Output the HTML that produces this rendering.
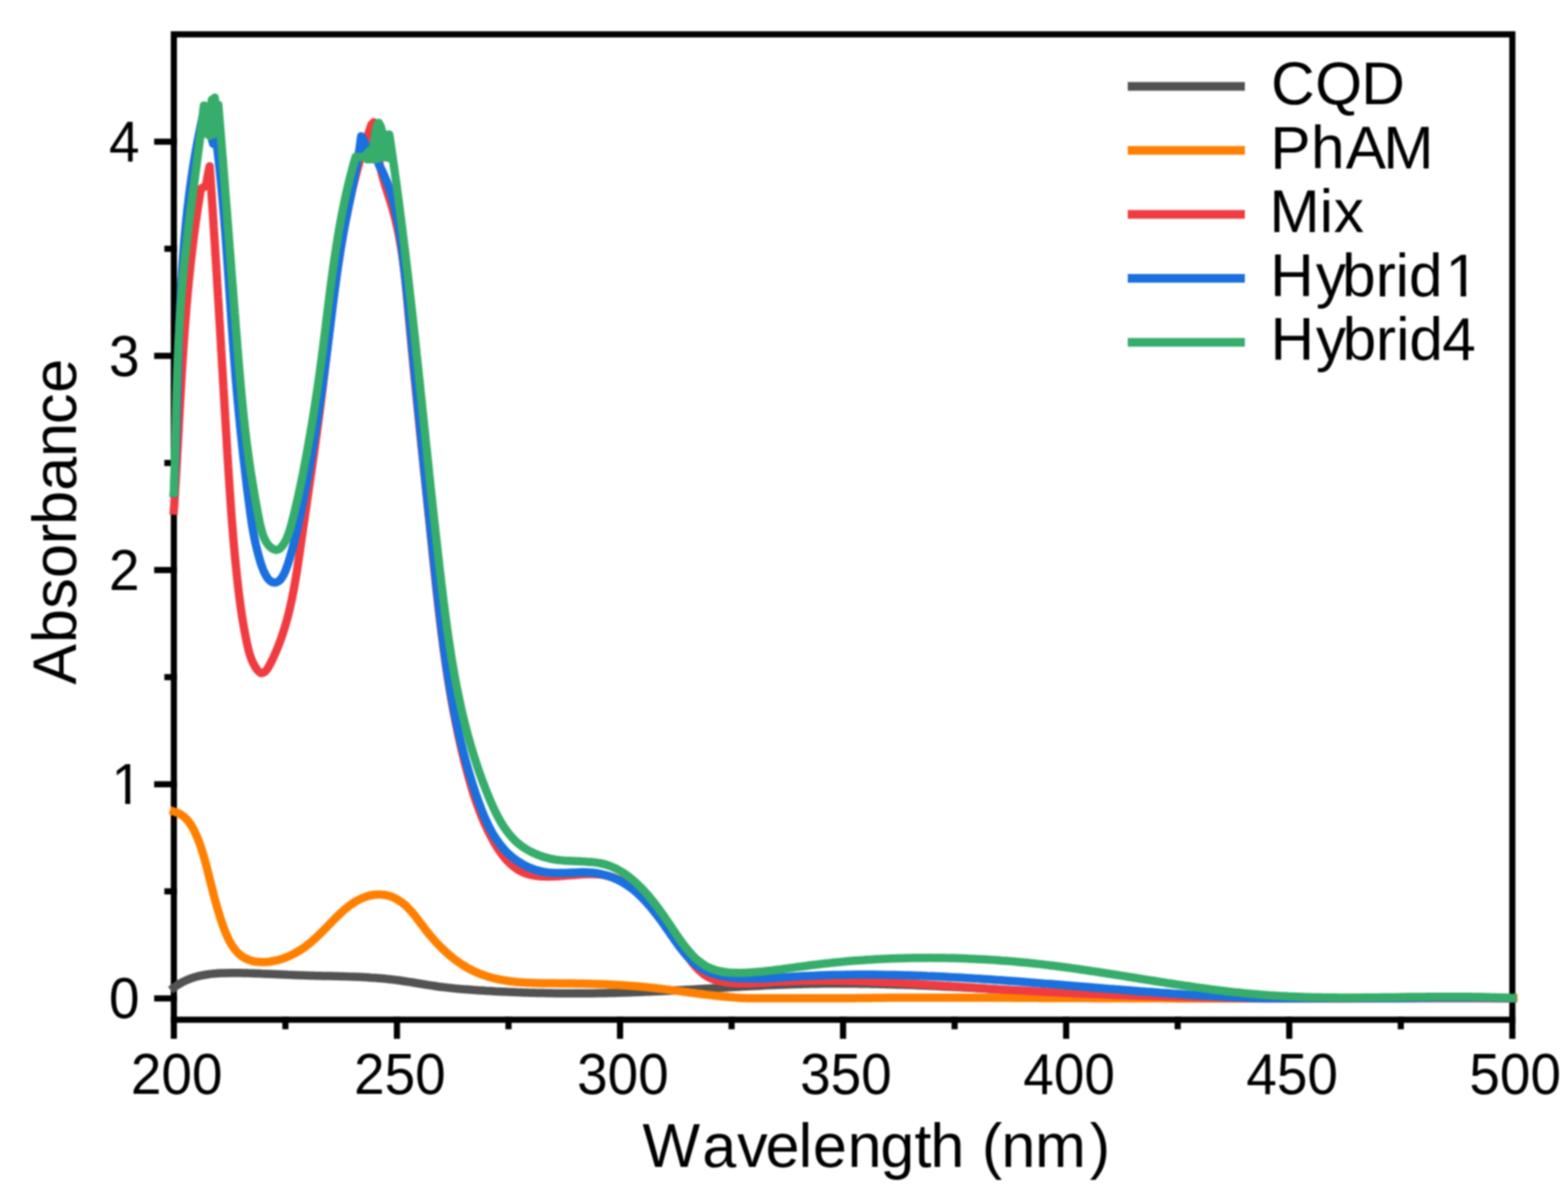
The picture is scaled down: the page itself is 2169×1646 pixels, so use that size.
<!DOCTYPE html>
<html><head><meta charset="utf-8"><title>Absorbance spectra</title><style>
html,body{margin:0;padding:0;background:#fff;overflow:hidden}
svg{display:block;filter:blur(0.80px)}
text{font-family:"Liberation Sans",Arial,Helvetica,sans-serif;fill:#000;font-kerning:none;font-feature-settings:"kern" 0}
.tl{font-size:76.0px}
.leg{font-size:83.5px}
.at{font-size:84.4px}
</style></head><body>
<svg xmlns="http://www.w3.org/2000/svg" width="2169" height="1646" viewBox="0 0 2169 1646">
<rect width="2169" height="1646" fill="#fff"/>
<g stroke="#000" stroke-width="8.5" fill="none" stroke-linecap="square">
<path d="M240.5 47.5 H2092.0 V1410.5 H240.5 Z"/>
<path d="M217.5 1381.0 H240.5"/>
<path d="M217.5 1084.8 H240.5"/>
<path d="M217.5 788.5 H240.5"/>
<path d="M217.5 492.2 H240.5"/>
<path d="M217.5 196.0 H240.5"/>
<path d="M231.6 1232.9 H240.5"/>
<path d="M231.6 936.6 H240.5"/>
<path d="M231.6 640.4 H240.5"/>
<path d="M231.6 344.1 H240.5"/>
<path d="M240.5 1410.5 V1432.6"/>
<path d="M549.1 1410.5 V1432.6"/>
<path d="M857.7 1410.5 V1432.6"/>
<path d="M1166.2 1410.5 V1432.6"/>
<path d="M1474.8 1410.5 V1432.6"/>
<path d="M1783.4 1410.5 V1432.6"/>
<path d="M2092.0 1410.5 V1432.6"/>
<path d="M394.8 1410.5 V1419.4"/>
<path d="M703.4 1410.5 V1419.4"/>
<path d="M1012.0 1410.5 V1419.4"/>
<path d="M1320.5 1410.5 V1419.4"/>
<path d="M1629.1 1410.5 V1419.4"/>
<path d="M1937.7 1410.5 V1419.4"/>
</g>
<path d="M240.5 1366.0C241.3 1365.4 243.8 1363.6 245.5 1362.5C247.2 1361.4 249.0 1360.3 250.7 1359.4C252.5 1358.4 254.2 1357.5 256.0 1356.7C257.8 1355.8 259.6 1355.0 261.4 1354.3C263.2 1353.6 265.1 1353.0 266.9 1352.4C268.8 1351.8 270.6 1351.2 272.5 1350.7C274.4 1350.2 276.3 1349.8 278.2 1349.4C280.1 1349.0 282.0 1348.6 283.9 1348.3C285.9 1347.9 287.8 1347.7 289.7 1347.4C291.7 1347.2 293.7 1347.0 295.6 1346.8C297.6 1346.6 299.6 1346.5 301.5 1346.3C303.5 1346.2 305.5 1346.1 307.5 1346.0C309.5 1346.0 311.5 1345.9 313.5 1345.9C315.5 1345.8 317.5 1345.8 319.5 1345.8C321.5 1345.8 323.6 1345.8 325.6 1345.8C327.6 1345.8 329.6 1345.8 331.6 1345.8C333.6 1345.9 335.6 1345.9 337.7 1345.9C339.7 1346.0 341.7 1346.0 343.7 1346.1C345.7 1346.1 347.7 1346.2 349.8 1346.2C351.8 1346.3 353.8 1346.4 355.8 1346.4C357.8 1346.5 359.9 1346.6 361.9 1346.7C363.9 1346.7 365.9 1346.8 368.0 1346.9C370.0 1347.0 372.0 1347.1 374.0 1347.2C376.0 1347.3 378.1 1347.3 380.1 1347.4C382.1 1347.5 384.1 1347.6 386.1 1347.7C388.2 1347.8 390.2 1347.9 392.2 1348.0C394.2 1348.1 396.2 1348.2 398.3 1348.3C400.3 1348.3 402.3 1348.4 404.3 1348.5C406.3 1348.6 408.4 1348.7 410.4 1348.8C412.4 1348.9 414.4 1348.9 416.4 1349.0C418.4 1349.1 420.4 1349.1 422.4 1349.2C424.5 1349.3 426.5 1349.3 428.5 1349.4C430.5 1349.5 432.5 1349.5 434.5 1349.6C436.5 1349.6 438.5 1349.7 440.5 1349.7C442.5 1349.8 444.5 1349.8 446.5 1349.9C448.5 1349.9 450.5 1349.9 452.5 1350.0C454.5 1350.0 456.5 1350.1 458.5 1350.1C460.5 1350.2 462.5 1350.2 464.5 1350.3C466.5 1350.3 468.5 1350.4 470.5 1350.4C472.5 1350.5 474.5 1350.5 476.5 1350.6C478.5 1350.6 480.5 1350.7 482.4 1350.8C484.4 1350.8 486.4 1350.9 488.4 1351.0C490.4 1351.1 492.4 1351.1 494.4 1351.2C496.4 1351.3 498.3 1351.4 500.3 1351.5C502.3 1351.6 504.3 1351.7 506.3 1351.8C508.3 1351.9 510.2 1352.0 512.2 1352.2C514.2 1352.3 516.2 1352.4 518.2 1352.6C520.1 1352.7 522.1 1352.9 524.1 1353.0C526.1 1353.2 528.1 1353.4 530.0 1353.5C532.0 1353.7 534.0 1353.9 536.0 1354.1C537.9 1354.3 539.9 1354.5 541.9 1354.8C543.9 1355.0 545.8 1355.2 547.8 1355.5C549.8 1355.7 551.8 1356.0 553.7 1356.3C555.7 1356.6 557.7 1356.9 559.6 1357.2C561.6 1357.5 563.6 1357.8 565.6 1358.1C567.5 1358.4 569.5 1358.7 571.5 1359.0C573.4 1359.4 575.4 1359.7 577.4 1360.0C579.4 1360.3 581.3 1360.7 583.3 1361.0C585.3 1361.3 587.2 1361.6 589.2 1362.0C591.2 1362.3 593.2 1362.6 595.1 1362.9C597.1 1363.2 599.1 1363.5 601.1 1363.8C603.1 1364.1 605.0 1364.4 607.0 1364.7C609.0 1364.9 611.0 1365.2 613.0 1365.4C615.0 1365.7 617.0 1365.9 618.9 1366.1C620.9 1366.4 622.9 1366.6 624.9 1366.8C626.9 1367.0 628.9 1367.2 630.9 1367.4C632.9 1367.6 634.9 1367.7 636.9 1367.9C638.9 1368.1 640.9 1368.2 642.9 1368.4C644.9 1368.5 646.9 1368.7 648.9 1368.8C650.9 1369.0 652.9 1369.1 654.9 1369.3C656.9 1369.4 658.8 1369.6 660.8 1369.7C662.8 1369.8 664.8 1370.0 666.8 1370.1C668.8 1370.2 670.8 1370.3 672.8 1370.5C674.8 1370.6 676.8 1370.7 678.8 1370.8C680.8 1370.9 682.8 1371.0 684.8 1371.2C686.8 1371.3 688.8 1371.4 690.8 1371.5C692.8 1371.6 694.9 1371.7 696.9 1371.8C698.9 1371.9 700.9 1372.0 702.9 1372.1C704.9 1372.1 706.9 1372.2 708.9 1372.3C710.9 1372.4 712.9 1372.5 714.9 1372.6C716.9 1372.6 718.9 1372.7 720.9 1372.8C722.9 1372.9 724.9 1372.9 726.9 1373.0C728.9 1373.1 730.9 1373.1 732.9 1373.2C734.9 1373.2 736.9 1373.3 738.9 1373.3C740.9 1373.4 742.9 1373.4 744.9 1373.5C746.9 1373.5 748.9 1373.6 750.9 1373.6C752.9 1373.7 754.9 1373.7 756.9 1373.7C758.9 1373.8 761.0 1373.8 763.0 1373.8C765.0 1373.9 767.0 1373.9 769.0 1373.9C771.0 1373.9 773.0 1374.0 775.0 1374.0C777.0 1374.0 779.0 1374.0 781.0 1374.0C783.0 1374.0 785.0 1374.1 787.0 1374.1C789.0 1374.1 791.0 1374.1 793.0 1374.1C795.0 1374.1 797.0 1374.1 799.1 1374.1C801.1 1374.1 803.1 1374.1 805.1 1374.1C807.1 1374.0 809.1 1374.0 811.1 1374.0C813.1 1374.0 815.1 1374.0 817.1 1374.0C819.1 1373.9 821.1 1373.9 823.1 1373.9C825.1 1373.9 827.1 1373.8 829.1 1373.8C831.1 1373.8 833.2 1373.7 835.2 1373.7C837.2 1373.7 839.2 1373.6 841.2 1373.6C843.2 1373.6 845.2 1373.5 847.2 1373.5C849.2 1373.4 851.2 1373.4 853.2 1373.3C855.2 1373.3 857.2 1373.2 859.2 1373.1C861.2 1373.1 863.2 1373.0 865.2 1373.0C867.3 1372.9 869.3 1372.8 871.3 1372.8C873.3 1372.7 875.3 1372.6 877.3 1372.6C879.3 1372.5 881.3 1372.4 883.3 1372.3C885.3 1372.3 887.3 1372.2 889.3 1372.1C891.3 1372.0 893.3 1371.9 895.3 1371.8C897.3 1371.8 899.3 1371.7 901.4 1371.6C903.4 1371.5 905.4 1371.4 907.4 1371.3C909.4 1371.2 911.4 1371.1 913.4 1371.0C915.4 1370.9 917.4 1370.8 919.4 1370.7C921.4 1370.6 923.4 1370.5 925.4 1370.4C927.4 1370.3 929.4 1370.2 931.4 1370.1C933.4 1370.0 935.4 1369.9 937.5 1369.8C939.5 1369.7 941.5 1369.5 943.5 1369.4C945.5 1369.3 947.5 1369.2 949.5 1369.1C951.5 1369.0 953.5 1368.9 955.5 1368.8C957.5 1368.6 959.5 1368.5 961.5 1368.4C963.5 1368.3 965.5 1368.2 967.5 1368.1C969.5 1368.0 971.5 1367.8 973.5 1367.7C975.5 1367.6 977.6 1367.5 979.6 1367.4C981.6 1367.3 983.6 1367.1 985.6 1367.0C987.6 1366.9 989.6 1366.8 991.6 1366.7C993.6 1366.5 995.6 1366.4 997.6 1366.3C999.6 1366.2 1001.6 1366.1 1003.6 1366.0C1005.6 1365.9 1007.6 1365.7 1009.6 1365.6C1011.6 1365.5 1013.6 1365.4 1015.6 1365.3C1017.6 1365.2 1019.6 1365.1 1021.7 1364.9C1023.7 1364.8 1025.7 1364.7 1027.7 1364.6C1029.7 1364.5 1031.7 1364.4 1033.7 1364.3C1035.7 1364.2 1037.7 1364.1 1039.7 1364.0C1041.7 1363.9 1043.7 1363.8 1045.7 1363.7C1047.7 1363.6 1049.7 1363.5 1051.7 1363.4C1053.7 1363.3 1055.7 1363.2 1057.7 1363.1C1059.7 1363.0 1061.7 1362.9 1063.7 1362.8C1065.7 1362.7 1067.7 1362.6 1069.7 1362.5C1071.8 1362.4 1073.8 1362.4 1075.8 1362.3C1077.8 1362.2 1079.8 1362.1 1081.8 1362.0C1083.8 1362.0 1085.8 1361.9 1087.8 1361.8C1089.8 1361.7 1091.8 1361.7 1093.8 1361.6C1095.8 1361.5 1097.8 1361.5 1099.8 1361.4C1101.8 1361.3 1103.8 1361.3 1105.8 1361.2C1107.8 1361.2 1109.8 1361.1 1111.8 1361.1C1113.8 1361.0 1115.8 1361.0 1117.8 1360.9C1119.8 1360.9 1121.8 1360.8 1123.8 1360.8C1125.8 1360.8 1127.9 1360.7 1129.9 1360.7C1131.9 1360.7 1133.9 1360.6 1135.9 1360.6C1137.9 1360.6 1139.9 1360.6 1141.9 1360.6C1143.9 1360.5 1145.9 1360.5 1147.9 1360.5C1149.9 1360.5 1151.9 1360.5 1153.9 1360.5C1155.9 1360.5 1157.9 1360.5 1159.9 1360.5C1161.9 1360.5 1163.9 1360.5 1165.9 1360.5C1167.9 1360.5 1169.9 1360.5 1171.9 1360.5C1173.9 1360.5 1175.9 1360.5 1177.9 1360.5C1179.9 1360.6 1181.9 1360.6 1183.9 1360.6C1185.9 1360.6 1187.9 1360.6 1189.9 1360.7C1192.0 1360.7 1194.0 1360.7 1196.0 1360.7C1198.0 1360.8 1200.0 1360.8 1202.0 1360.8C1204.0 1360.9 1206.0 1360.9 1208.0 1361.0C1210.0 1361.0 1212.0 1361.0 1214.0 1361.1C1216.0 1361.1 1218.0 1361.2 1220.0 1361.2C1222.0 1361.3 1224.0 1361.3 1226.0 1361.4C1228.0 1361.4 1230.0 1361.5 1232.0 1361.6C1234.0 1361.6 1236.0 1361.7 1238.0 1361.7C1240.0 1361.8 1242.0 1361.9 1244.0 1361.9C1246.0 1362.0 1248.0 1362.1 1250.0 1362.1C1252.0 1362.2 1254.0 1362.3 1256.0 1362.3C1258.0 1362.4 1260.0 1362.5 1262.1 1362.6C1264.1 1362.6 1266.1 1362.7 1268.1 1362.8C1270.1 1362.9 1272.1 1363.0 1274.1 1363.0C1276.1 1363.1 1278.1 1363.2 1280.1 1363.3C1282.1 1363.4 1284.1 1363.5 1286.1 1363.6C1288.1 1363.6 1290.1 1363.7 1292.1 1363.8C1294.1 1363.9 1296.1 1364.0 1298.1 1364.1C1300.1 1364.2 1302.1 1364.3 1304.1 1364.4C1306.1 1364.5 1308.1 1364.6 1310.1 1364.7C1312.1 1364.8 1314.1 1364.9 1316.1 1365.0C1318.1 1365.1 1320.1 1365.2 1322.1 1365.3C1324.1 1365.4 1326.1 1365.5 1328.1 1365.6C1330.1 1365.7 1332.1 1365.8 1334.1 1365.9C1336.2 1366.1 1338.2 1366.2 1340.2 1366.3C1342.2 1366.4 1344.2 1366.5 1346.2 1366.6C1348.2 1366.7 1350.2 1366.8 1352.2 1366.9C1354.2 1367.1 1356.2 1367.2 1358.2 1367.3C1360.2 1367.4 1362.2 1367.5 1364.2 1367.6C1366.2 1367.7 1368.2 1367.9 1370.2 1368.0C1372.2 1368.1 1374.2 1368.2 1376.2 1368.3C1378.2 1368.5 1380.2 1368.6 1382.2 1368.7C1384.2 1368.8 1386.2 1368.9 1388.2 1369.0C1390.2 1369.2 1392.2 1369.3 1394.2 1369.4C1396.2 1369.5 1398.2 1369.6 1400.2 1369.8C1402.2 1369.9 1404.2 1370.0 1406.2 1370.1C1408.3 1370.2 1410.3 1370.4 1412.3 1370.5C1414.3 1370.6 1416.3 1370.7 1418.3 1370.9C1420.3 1371.0 1422.3 1371.1 1424.3 1371.2C1426.3 1371.3 1428.3 1371.5 1430.3 1371.6C1432.3 1371.7 1434.3 1371.8 1436.3 1371.9C1438.3 1372.1 1440.3 1372.2 1442.3 1372.3C1444.3 1372.4 1446.3 1372.5 1448.3 1372.7C1450.3 1372.8 1452.3 1372.9 1454.3 1373.0C1456.3 1373.1 1458.3 1373.3 1460.3 1373.4C1462.3 1373.5 1464.3 1373.6 1466.3 1373.7C1468.3 1373.8 1470.3 1374.0 1472.3 1374.1C1474.4 1374.2 1476.4 1374.3 1478.4 1374.4C1480.4 1374.5 1482.4 1374.7 1484.4 1374.8C1486.4 1374.9 1488.4 1375.0 1490.4 1375.1C1492.4 1375.2 1494.4 1375.3 1496.4 1375.4C1498.4 1375.5 1500.4 1375.7 1502.4 1375.8C1504.4 1375.9 1506.4 1376.0 1508.4 1376.1C1510.4 1376.2 1512.4 1376.3 1514.4 1376.4C1516.4 1376.5 1518.4 1376.6 1520.4 1376.7C1522.4 1376.8 1524.4 1376.9 1526.4 1377.0C1528.4 1377.1 1530.4 1377.2 1532.5 1377.3C1534.5 1377.4 1536.5 1377.5 1538.5 1377.6C1540.5 1377.7 1542.5 1377.8 1544.5 1377.9C1546.5 1378.0 1548.5 1378.1 1550.5 1378.1C1552.5 1378.2 1554.5 1378.3 1556.5 1378.4C1558.5 1378.5 1560.5 1378.6 1562.5 1378.7C1564.5 1378.7 1566.5 1378.8 1568.5 1378.9C1570.5 1379.0 1572.5 1379.1 1574.5 1379.1C1576.5 1379.2 1578.5 1379.3 1580.5 1379.4C1582.6 1379.4 1584.6 1379.5 1586.6 1379.6C1588.6 1379.7 1590.6 1379.7 1592.6 1379.8C1594.6 1379.8 1596.6 1379.9 1598.6 1380.0C1600.6 1380.0 1602.6 1380.1 1604.6 1380.2C1606.6 1380.2 1608.6 1380.3 1610.6 1380.3C1612.6 1380.4 1614.6 1380.4 1616.6 1380.5C1618.6 1380.5 1620.6 1380.6 1622.6 1380.6C1624.6 1380.7 1626.7 1380.7 1628.7 1380.8C1630.7 1380.8 1632.7 1380.8 1634.7 1380.8C1636.7 1380.8 1638.7 1380.8 1640.7 1380.8C1642.7 1380.8 1644.7 1380.8 1646.7 1380.8C1648.7 1380.8 1650.7 1380.8 1652.7 1380.8C1654.7 1380.8 1656.7 1380.8 1658.7 1380.8C1660.7 1380.8 1662.7 1380.8 1664.7 1380.8C1666.7 1380.8 1668.8 1380.8 1670.8 1380.8C1672.8 1380.8 1674.8 1380.8 1676.8 1380.8C1678.8 1380.8 1680.8 1380.8 1682.8 1380.8C1684.8 1380.8 1686.8 1380.8 1688.8 1380.8C1690.8 1380.8 1692.8 1380.8 1694.8 1380.8C1696.8 1380.8 1698.8 1380.8 1700.8 1380.8C1702.8 1380.8 1704.8 1380.8 1706.9 1380.8C1708.9 1380.8 1710.9 1380.8 1712.9 1380.8C1714.9 1380.8 1716.9 1380.8 1718.9 1380.8C1720.9 1380.8 1722.9 1380.8 1724.9 1380.8C1726.9 1380.8 1728.9 1380.8 1730.9 1380.8C1732.9 1380.8 1734.9 1380.8 1736.9 1380.8C1738.9 1380.8 1741.0 1380.8 1743.0 1380.8C1745.0 1380.8 1747.0 1380.8 1749.0 1380.8C1751.0 1380.8 1753.0 1380.8 1755.0 1380.8C1757.0 1380.8 1759.0 1380.8 1761.0 1380.8C1763.0 1380.8 1765.0 1380.8 1767.0 1380.8C1769.0 1380.8 1771.0 1380.8 1773.0 1380.8C1775.0 1380.8 1777.1 1380.8 1779.1 1380.8C1781.1 1380.8 1783.1 1380.8 1785.1 1380.8C1787.1 1380.8 1789.1 1380.8 1791.1 1380.8C1793.1 1380.8 1795.1 1380.8 1797.1 1380.8C1799.1 1380.8 1801.1 1380.8 1803.1 1380.8C1805.1 1380.8 1807.1 1380.8 1809.2 1380.8C1811.2 1380.8 1813.2 1380.8 1815.2 1380.8C1817.2 1380.8 1819.2 1380.8 1821.2 1380.8C1823.2 1380.8 1825.2 1380.8 1827.2 1380.8C1829.2 1380.8 1831.2 1380.8 1833.2 1380.8C1835.2 1380.8 1837.2 1380.8 1839.2 1380.8C1841.2 1380.8 1843.3 1380.8 1845.3 1380.8C1847.3 1380.8 1849.3 1380.8 1851.3 1380.8C1853.3 1380.8 1855.3 1380.8 1857.3 1380.8C1859.3 1380.8 1861.3 1380.8 1863.3 1380.7C1865.3 1380.7 1867.3 1380.7 1869.3 1380.7C1871.3 1380.7 1873.3 1380.6 1875.4 1380.6C1877.4 1380.6 1879.4 1380.6 1881.4 1380.6C1883.4 1380.5 1885.4 1380.5 1887.4 1380.5C1889.4 1380.5 1891.4 1380.4 1893.4 1380.4C1895.4 1380.4 1897.4 1380.4 1899.4 1380.4C1901.4 1380.3 1903.4 1380.3 1905.4 1380.3C1907.5 1380.3 1909.5 1380.3 1911.5 1380.3C1913.5 1380.2 1915.5 1380.2 1917.5 1380.2C1919.5 1380.2 1921.5 1380.2 1923.5 1380.1C1925.5 1380.1 1927.5 1380.1 1929.5 1380.1C1931.5 1380.1 1933.5 1380.1 1935.5 1380.1C1937.5 1380.0 1939.6 1380.0 1941.6 1380.0C1943.6 1380.0 1945.6 1380.0 1947.6 1380.0C1949.6 1380.0 1951.6 1379.9 1953.6 1379.9C1955.6 1379.9 1957.6 1379.9 1959.6 1379.9C1961.6 1379.9 1963.6 1379.9 1965.6 1379.9C1967.6 1379.9 1969.6 1379.9 1971.6 1379.9C1973.7 1379.9 1975.7 1379.8 1977.7 1379.8C1979.7 1379.8 1981.7 1379.8 1983.7 1379.8C1985.7 1379.8 1987.7 1379.8 1989.7 1379.8C1991.7 1379.8 1993.7 1379.8 1995.7 1379.8C1997.7 1379.8 1999.7 1379.8 2001.7 1379.8C2003.7 1379.8 2005.8 1379.8 2007.8 1379.8C2009.8 1379.8 2011.8 1379.8 2013.8 1379.9C2015.8 1379.9 2017.8 1379.9 2019.8 1379.9C2021.8 1379.9 2023.8 1379.9 2025.8 1379.9C2027.8 1379.9 2029.8 1379.9 2031.8 1380.0C2033.8 1380.0 2035.8 1380.0 2037.8 1380.0C2039.9 1380.0 2041.9 1380.0 2043.9 1380.1C2045.9 1380.1 2047.9 1380.1 2049.9 1380.1C2051.9 1380.1 2053.9 1380.2 2055.9 1380.2C2057.9 1380.2 2059.9 1380.2 2061.9 1380.3C2063.9 1380.3 2065.9 1380.3 2067.9 1380.4C2069.9 1380.4 2071.9 1380.4 2073.9 1380.5C2076.0 1380.5 2078.0 1380.5 2080.0 1380.6C2082.0 1380.6 2084.0 1380.6 2086.0 1380.7C2088.0 1380.7 2091.0 1380.8 2092.0 1380.8" fill="none" stroke="#525252" stroke-width="11.5" stroke-linejoin="round" stroke-linecap="square"/>
<path d="M240.5 1122.5C241.5 1122.8 244.4 1123.7 246.2 1124.6C248.0 1125.4 249.7 1126.3 251.2 1127.4C252.8 1128.4 254.3 1129.6 255.7 1130.8C257.1 1132.1 258.4 1133.4 259.6 1134.9C260.8 1136.3 262.0 1137.8 263.1 1139.4C264.1 1141.0 265.2 1142.6 266.1 1144.3C267.1 1146.0 268.0 1147.7 268.9 1149.5C269.8 1151.3 270.6 1153.1 271.4 1154.9C272.2 1156.7 273.0 1158.6 273.7 1160.4C274.5 1162.3 275.2 1164.2 275.9 1166.1C276.6 1168.0 277.3 1169.9 277.9 1171.8C278.6 1173.8 279.2 1175.7 279.8 1177.6C280.4 1179.6 281.0 1181.6 281.6 1183.5C282.2 1185.5 282.7 1187.4 283.3 1189.4C283.8 1191.4 284.4 1193.4 284.9 1195.3C285.4 1197.3 285.9 1199.3 286.4 1201.2C286.9 1203.2 287.4 1205.2 287.9 1207.1C288.4 1209.1 288.9 1211.1 289.3 1213.0C289.8 1214.9 290.3 1216.9 290.8 1218.8C291.3 1220.7 291.7 1222.6 292.2 1224.5C292.7 1226.5 293.2 1228.4 293.7 1230.3C294.2 1232.2 294.7 1234.1 295.2 1236.0C295.7 1237.9 296.2 1239.7 296.7 1241.7C297.2 1243.6 297.7 1245.5 298.2 1247.4C298.7 1249.3 299.3 1251.2 299.8 1253.1C300.4 1255.0 300.9 1257.0 301.5 1258.9C302.1 1260.8 302.7 1262.8 303.3 1264.7C303.9 1266.7 304.5 1268.7 305.1 1270.7C305.8 1272.7 306.4 1274.7 307.1 1276.7C307.8 1278.7 308.5 1280.7 309.2 1282.7C310.0 1284.7 310.7 1286.7 311.5 1288.7C312.3 1290.7 313.1 1292.6 314.0 1294.5C314.8 1296.4 315.7 1298.3 316.7 1300.1C317.6 1302.0 318.6 1303.8 319.6 1305.5C320.7 1307.2 321.7 1308.9 322.9 1310.5C324.0 1312.1 325.2 1313.6 326.4 1315.0C327.6 1316.5 328.9 1317.8 330.3 1319.1C331.6 1320.4 333.1 1321.5 334.5 1322.6C336.0 1323.7 337.6 1324.6 339.2 1325.5C340.8 1326.3 342.5 1327.0 344.2 1327.7C345.9 1328.3 347.7 1328.8 349.5 1329.3C351.4 1329.7 353.2 1330.0 355.1 1330.3C357.0 1330.5 359.0 1330.7 360.9 1330.7C362.8 1330.8 364.8 1330.8 366.8 1330.7C368.8 1330.6 370.8 1330.4 372.8 1330.2C374.7 1329.9 376.7 1329.6 378.7 1329.2C380.7 1328.8 382.7 1328.4 384.6 1327.9C386.6 1327.3 388.5 1326.8 390.4 1326.1C392.3 1325.5 394.2 1324.8 396.1 1324.1C397.9 1323.3 399.8 1322.5 401.6 1321.7C403.4 1320.9 405.2 1320.0 407.0 1319.0C408.8 1318.1 410.5 1317.1 412.3 1316.0C414.0 1315.0 415.7 1313.9 417.4 1312.8C419.1 1311.7 420.8 1310.5 422.4 1309.3C424.0 1308.1 425.7 1306.8 427.3 1305.6C428.9 1304.3 430.4 1303.0 432.0 1301.6C433.6 1300.3 435.1 1298.9 436.6 1297.5C438.2 1296.1 439.7 1294.6 441.2 1293.2C442.6 1291.7 444.1 1290.3 445.6 1288.8C447.1 1287.3 448.5 1285.8 450.0 1284.4C451.4 1282.9 452.9 1281.4 454.3 1279.9C455.8 1278.4 457.2 1276.9 458.7 1275.4C460.1 1273.9 461.6 1272.5 463.0 1271.0C464.5 1269.6 465.9 1268.1 467.4 1266.7C468.8 1265.3 470.3 1263.9 471.8 1262.5C473.2 1261.2 474.7 1259.8 476.2 1258.5C477.7 1257.3 479.3 1256.0 480.8 1254.8C482.3 1253.6 483.9 1252.4 485.5 1251.3C487.0 1250.1 488.6 1249.1 490.2 1248.0C491.9 1247.0 493.5 1246.0 495.2 1245.2C496.9 1244.3 498.6 1243.4 500.3 1242.6C502.0 1241.9 503.8 1241.2 505.6 1240.6C507.4 1239.9 509.2 1239.4 511.1 1238.9C512.9 1238.5 514.8 1238.1 516.7 1237.8C518.6 1237.6 520.5 1237.4 522.4 1237.3C524.3 1237.2 526.2 1237.2 528.1 1237.4C529.9 1237.5 531.8 1237.7 533.7 1238.1C535.6 1238.5 537.4 1239.0 539.2 1239.5C541.1 1240.1 542.9 1240.8 544.6 1241.6C546.4 1242.4 548.1 1243.3 549.8 1244.3C551.5 1245.2 553.1 1246.3 554.7 1247.4C556.3 1248.6 557.8 1249.8 559.3 1251.1C560.8 1252.3 562.3 1253.7 563.7 1255.1C565.1 1256.4 566.5 1257.9 567.8 1259.4C569.2 1260.9 570.5 1262.4 571.8 1264.0C573.1 1265.5 574.4 1267.1 575.6 1268.8C576.9 1270.4 578.1 1272.0 579.4 1273.7C580.6 1275.3 581.9 1277.0 583.1 1278.7C584.4 1280.3 585.6 1282.0 586.9 1283.6C588.1 1285.3 589.4 1287.0 590.7 1288.6C592.0 1290.2 593.3 1291.8 594.6 1293.4C595.9 1295.0 597.3 1296.6 598.6 1298.1C600.0 1299.7 601.4 1301.2 602.7 1302.7C604.1 1304.3 605.5 1305.7 607.0 1307.2C608.4 1308.7 609.8 1310.1 611.3 1311.5C612.7 1313.0 614.2 1314.4 615.7 1315.7C617.2 1317.1 618.7 1318.4 620.2 1319.7C621.7 1321.1 623.2 1322.3 624.8 1323.6C626.4 1324.9 627.9 1326.1 629.5 1327.3C631.1 1328.5 632.7 1329.7 634.3 1330.8C635.9 1331.9 637.6 1333.0 639.2 1334.1C640.9 1335.2 642.5 1336.2 644.2 1337.2C645.9 1338.2 647.6 1339.2 649.3 1340.1C651.0 1341.0 652.8 1341.9 654.5 1342.8C656.3 1343.6 658.0 1344.4 659.8 1345.2C661.6 1346.0 663.4 1346.7 665.2 1347.4C667.0 1348.1 668.9 1348.8 670.7 1349.4C672.5 1350.0 674.4 1350.6 676.3 1351.2C678.1 1351.7 680.0 1352.2 681.9 1352.7C683.8 1353.2 685.7 1353.7 687.7 1354.1C689.6 1354.5 691.5 1354.9 693.5 1355.3C695.4 1355.6 697.4 1356.0 699.3 1356.3C701.3 1356.6 703.3 1356.9 705.3 1357.2C707.3 1357.4 709.2 1357.7 711.2 1357.9C713.2 1358.1 715.3 1358.3 717.3 1358.5C719.3 1358.6 721.3 1358.8 723.3 1358.9C725.4 1359.1 727.4 1359.2 729.4 1359.3C731.5 1359.4 733.5 1359.5 735.5 1359.6C737.6 1359.7 739.6 1359.7 741.7 1359.8C743.7 1359.9 745.8 1359.9 747.8 1359.9C749.9 1360.0 751.9 1360.0 754.0 1360.0C756.1 1360.1 758.1 1360.1 760.2 1360.1C762.2 1360.1 764.3 1360.1 766.3 1360.1C768.4 1360.1 770.4 1360.1 772.5 1360.2C774.5 1360.2 776.6 1360.2 778.6 1360.2C780.7 1360.2 782.7 1360.2 784.7 1360.2C786.8 1360.2 788.8 1360.3 790.8 1360.3C792.8 1360.3 794.9 1360.3 796.9 1360.4C798.9 1360.4 800.9 1360.4 802.9 1360.5C804.9 1360.5 806.9 1360.5 808.9 1360.6C810.9 1360.6 812.9 1360.7 814.9 1360.7C816.9 1360.8 818.9 1360.8 820.9 1360.9C822.9 1361.0 824.9 1361.0 826.9 1361.1C828.9 1361.2 830.9 1361.2 832.9 1361.3C834.9 1361.4 836.9 1361.5 838.8 1361.6C840.8 1361.7 842.8 1361.8 844.8 1361.9C846.8 1361.9 848.7 1362.1 850.7 1362.2C852.7 1362.3 854.7 1362.4 856.6 1362.5C858.6 1362.6 860.6 1362.8 862.6 1362.9C864.5 1363.0 866.5 1363.2 868.5 1363.3C870.4 1363.4 872.4 1363.6 874.4 1363.7C876.4 1363.9 878.3 1364.1 880.3 1364.2C882.3 1364.4 884.2 1364.6 886.2 1364.7C888.2 1364.9 890.2 1365.1 892.1 1365.3C894.1 1365.5 896.1 1365.7 898.0 1365.9C900.0 1366.1 902.0 1366.3 904.0 1366.5C905.9 1366.7 907.9 1367.0 909.9 1367.2C911.9 1367.4 913.9 1367.7 915.8 1367.9C917.8 1368.1 919.8 1368.4 921.8 1368.6C923.8 1368.9 925.7 1369.1 927.7 1369.4C929.7 1369.6 931.7 1369.9 933.7 1370.1C935.6 1370.4 937.6 1370.7 939.6 1370.9C941.6 1371.2 943.6 1371.5 945.6 1371.7C947.6 1372.0 949.5 1372.2 951.5 1372.5C953.5 1372.8 955.5 1373.0 957.5 1373.3C959.5 1373.5 961.5 1373.8 963.5 1374.1C965.4 1374.3 967.4 1374.6 969.4 1374.8C971.4 1375.1 973.4 1375.3 975.4 1375.6C977.4 1375.8 979.4 1376.0 981.4 1376.3C983.4 1376.5 985.4 1376.7 987.4 1377.0C989.4 1377.2 991.3 1377.4 993.3 1377.6C995.3 1377.8 997.3 1378.0 999.3 1378.2C1001.3 1378.4 1003.3 1378.6 1005.3 1378.8C1007.3 1379.0 1009.3 1379.1 1011.3 1379.3C1013.3 1379.5 1015.3 1379.6 1017.3 1379.8C1019.3 1379.9 1021.3 1380.1 1023.3 1380.2C1025.3 1380.3 1027.3 1380.5 1029.3 1380.6C1031.3 1380.7 1033.3 1380.8 1035.3 1380.8C1037.3 1380.8 1039.3 1380.8 1041.3 1380.8C1043.3 1380.8 1045.3 1380.8 1047.3 1380.8C1049.3 1380.8 1051.3 1380.8 1053.3 1380.8C1055.3 1380.8 1057.3 1380.8 1059.3 1380.8C1061.3 1380.8 1063.3 1380.8 1065.3 1380.8C1067.3 1380.8 1069.3 1380.8 1071.3 1380.8C1073.3 1380.8 1075.3 1380.8 1077.3 1380.8C1079.3 1380.8 1081.3 1380.8 1083.3 1380.8C1085.3 1380.8 1087.3 1380.8 1089.3 1380.8C1091.3 1380.8 1093.3 1380.8 1095.3 1380.8C1097.3 1380.8 1099.3 1380.8 1101.4 1380.8C1103.4 1380.8 1105.4 1380.8 1107.4 1380.8C1109.4 1380.8 1111.4 1380.8 1113.4 1380.8C1115.4 1380.8 1117.4 1380.8 1119.4 1380.8C1121.4 1380.8 1123.4 1380.8 1125.4 1380.8C1127.4 1380.8 1129.4 1380.8 1131.4 1380.8C1133.4 1380.8 1135.4 1380.8 1137.4 1380.8C1139.4 1380.8 1141.4 1380.8 1143.5 1380.8C1145.5 1380.8 1147.5 1380.8 1149.5 1380.8C1151.5 1380.8 1153.5 1380.8 1155.5 1380.8C1157.5 1380.8 1159.5 1380.8 1161.5 1380.8C1163.5 1380.8 1165.5 1380.8 1167.5 1380.8C1169.5 1380.8 1171.5 1380.8 1173.5 1380.8C1175.5 1380.8 1177.5 1380.7 1179.5 1380.7C1181.6 1380.7 1183.6 1380.6 1185.6 1380.6C1187.6 1380.6 1189.6 1380.5 1191.6 1380.5C1193.6 1380.5 1195.6 1380.5 1197.6 1380.4C1199.6 1380.4 1201.6 1380.4 1203.6 1380.4C1205.6 1380.3 1207.6 1380.3 1209.6 1380.3C1211.6 1380.3 1213.6 1380.3 1215.6 1380.2C1217.6 1380.2 1219.6 1380.2 1221.6 1380.2C1223.7 1380.2 1225.7 1380.2 1227.7 1380.1C1229.7 1380.1 1231.7 1380.1 1233.7 1380.1C1235.7 1380.1 1237.7 1380.1 1239.7 1380.0C1241.7 1380.0 1243.7 1380.0 1245.7 1380.0C1247.7 1380.0 1249.7 1380.0 1251.7 1380.0C1253.7 1380.0 1255.7 1380.0 1257.7 1380.0C1259.7 1379.9 1261.7 1379.9 1263.7 1379.9C1265.7 1379.9 1267.8 1379.9 1269.8 1379.9C1271.8 1379.9 1273.8 1379.9 1275.8 1379.9C1277.8 1379.9 1279.8 1379.9 1281.8 1379.9C1283.8 1379.9 1285.8 1379.9 1287.8 1379.9C1289.8 1379.9 1291.8 1379.9 1293.8 1379.9C1295.8 1379.9 1297.8 1379.9 1299.8 1379.9C1301.8 1379.9 1303.8 1379.9 1305.8 1379.9C1307.8 1379.9 1309.8 1379.9 1311.9 1379.9C1313.9 1379.9 1315.9 1379.9 1317.9 1379.9C1319.9 1379.9 1321.9 1379.9 1323.9 1379.9C1325.9 1379.9 1327.9 1379.9 1329.9 1379.9C1331.9 1379.9 1333.9 1379.9 1335.9 1379.9C1337.9 1379.9 1339.9 1379.9 1341.9 1379.9C1343.9 1379.9 1345.9 1379.9 1347.9 1379.9C1349.9 1380.0 1351.9 1380.0 1353.9 1380.0C1355.9 1380.0 1357.9 1380.0 1360.0 1380.0C1362.0 1380.0 1364.0 1380.0 1366.0 1380.0C1368.0 1380.0 1370.0 1380.0 1372.0 1380.0C1374.0 1380.0 1376.0 1380.1 1378.0 1380.1C1380.0 1380.1 1382.0 1380.1 1384.0 1380.1C1386.0 1380.1 1388.0 1380.1 1390.0 1380.1C1392.0 1380.1 1394.0 1380.1 1396.0 1380.1C1398.0 1380.2 1400.0 1380.2 1402.0 1380.2C1404.0 1380.2 1406.0 1380.2 1408.0 1380.2C1410.1 1380.2 1412.1 1380.2 1414.1 1380.2C1416.1 1380.3 1418.1 1380.3 1420.1 1380.3C1422.1 1380.3 1424.1 1380.3 1426.1 1380.3C1428.1 1380.3 1430.1 1380.3 1432.1 1380.3C1434.1 1380.3 1436.1 1380.4 1438.1 1380.4C1440.1 1380.4 1442.1 1380.4 1444.1 1380.4C1446.1 1380.4 1448.1 1380.4 1450.1 1380.4C1452.1 1380.4 1454.1 1380.4 1456.1 1380.5C1458.2 1380.5 1460.2 1380.5 1462.2 1380.5C1464.2 1380.5 1466.2 1380.5 1468.2 1380.5C1470.2 1380.5 1472.2 1380.5 1474.2 1380.5C1476.2 1380.5 1478.2 1380.6 1480.2 1380.6C1482.2 1380.6 1484.2 1380.6 1486.2 1380.6C1488.2 1380.6 1490.2 1380.6 1492.2 1380.6C1494.2 1380.6 1496.2 1380.6 1498.2 1380.6C1500.2 1380.6 1502.2 1380.6 1504.2 1380.6C1506.2 1380.7 1508.3 1380.7 1510.3 1380.7C1512.3 1380.7 1514.3 1380.7 1516.3 1380.7C1518.3 1380.7 1520.3 1380.7 1522.3 1380.7C1524.3 1380.7 1526.3 1380.7 1528.3 1380.7C1530.3 1380.7 1532.3 1380.7 1534.3 1380.7C1536.3 1380.7 1538.3 1380.7 1540.3 1380.7C1542.3 1380.7 1544.3 1380.7 1546.3 1380.7C1548.3 1380.7 1550.3 1380.8 1552.3 1380.8C1554.3 1380.8 1556.4 1380.8 1558.4 1380.8C1560.4 1380.8 1562.4 1380.8 1564.4 1380.8C1566.4 1380.8 1568.4 1380.8 1570.4 1380.8C1572.4 1380.8 1574.4 1380.8 1576.4 1380.8C1578.4 1380.8 1580.4 1380.8 1582.4 1380.8C1584.4 1380.8 1586.4 1380.8 1588.4 1380.8C1590.4 1380.8 1592.4 1380.8 1594.4 1380.8C1596.4 1380.8 1598.4 1380.8 1600.4 1380.8C1602.5 1380.8 1604.5 1380.8 1606.5 1380.8C1608.5 1380.8 1610.5 1380.8 1612.5 1380.8C1614.5 1380.8 1616.5 1380.8 1618.5 1380.8C1620.5 1380.8 1622.5 1380.8 1624.5 1380.8C1626.5 1380.8 1628.5 1380.8 1630.5 1380.8C1632.5 1380.8 1634.5 1380.8 1636.5 1380.8C1638.5 1380.8 1640.5 1380.8 1642.5 1380.8C1644.5 1380.8 1646.5 1380.8 1648.5 1380.8C1650.6 1380.8 1652.6 1380.8 1654.6 1380.8C1656.6 1380.8 1658.6 1380.8 1660.6 1380.8C1662.6 1380.8 1664.6 1380.8 1666.6 1380.7C1668.6 1380.7 1670.6 1380.7 1672.6 1380.7C1674.6 1380.7 1676.6 1380.7 1678.6 1380.7C1680.6 1380.7 1682.6 1380.7 1684.6 1380.7C1686.6 1380.7 1688.6 1380.7 1690.6 1380.7C1692.6 1380.7 1694.6 1380.7 1696.7 1380.7C1698.7 1380.7 1700.7 1380.7 1702.7 1380.7C1704.7 1380.7 1706.7 1380.7 1708.7 1380.7C1710.7 1380.7 1712.7 1380.7 1714.7 1380.7C1716.7 1380.7 1718.7 1380.7 1720.7 1380.7C1722.7 1380.7 1724.7 1380.7 1726.7 1380.7C1728.7 1380.6 1730.7 1380.6 1732.7 1380.6C1734.7 1380.6 1736.7 1380.6 1738.7 1380.6C1740.7 1380.6 1742.8 1380.6 1744.8 1380.6C1746.8 1380.6 1748.8 1380.6 1750.8 1380.6C1752.8 1380.6 1754.8 1380.6 1756.8 1380.6C1758.8 1380.6 1760.8 1380.6 1762.8 1380.6C1764.8 1380.6 1766.8 1380.6 1768.8 1380.6C1770.8 1380.6 1772.8 1380.6 1774.8 1380.6C1776.8 1380.5 1778.8 1380.5 1780.8 1380.5C1782.8 1380.5 1784.8 1380.5 1786.8 1380.5C1788.9 1380.5 1790.9 1380.5 1792.9 1380.5C1794.9 1380.5 1796.9 1380.5 1798.9 1380.5C1800.9 1380.5 1802.9 1380.5 1804.9 1380.5C1806.9 1380.5 1808.9 1380.5 1810.9 1380.5C1812.9 1380.5 1814.9 1380.5 1816.9 1380.5C1818.9 1380.5 1820.9 1380.5 1822.9 1380.4C1824.9 1380.4 1826.9 1380.4 1828.9 1380.4C1830.9 1380.4 1832.9 1380.4 1835.0 1380.4C1837.0 1380.4 1839.0 1380.4 1841.0 1380.4C1843.0 1380.4 1845.0 1380.4 1847.0 1380.4C1849.0 1380.4 1851.0 1380.4 1853.0 1380.4C1855.0 1380.4 1857.0 1380.4 1859.0 1380.4C1861.0 1380.4 1863.0 1380.4 1865.0 1380.4C1867.0 1380.4 1869.0 1380.4 1871.0 1380.4C1873.0 1380.4 1875.0 1380.3 1877.0 1380.3C1879.0 1380.3 1881.1 1380.3 1883.1 1380.3C1885.1 1380.3 1887.1 1380.3 1889.1 1380.3C1891.1 1380.3 1893.1 1380.3 1895.1 1380.3C1897.1 1380.3 1899.1 1380.3 1901.1 1380.3C1903.1 1380.3 1905.1 1380.3 1907.1 1380.3C1909.1 1380.3 1911.1 1380.3 1913.1 1380.3C1915.1 1380.3 1917.1 1380.3 1919.1 1380.3C1921.1 1380.3 1923.1 1380.3 1925.1 1380.3C1927.2 1380.3 1929.2 1380.3 1931.2 1380.3C1933.2 1380.3 1935.2 1380.3 1937.2 1380.3C1939.2 1380.3 1941.2 1380.3 1943.2 1380.3C1945.2 1380.3 1947.2 1380.3 1949.2 1380.3C1951.2 1380.3 1953.2 1380.3 1955.2 1380.3C1957.2 1380.3 1959.2 1380.3 1961.2 1380.3C1963.2 1380.3 1965.2 1380.3 1967.2 1380.3C1969.2 1380.3 1971.2 1380.3 1973.2 1380.3C1975.3 1380.3 1977.3 1380.3 1979.3 1380.3C1981.3 1380.3 1983.3 1380.3 1985.3 1380.3C1987.3 1380.3 1989.3 1380.3 1991.3 1380.3C1993.3 1380.3 1995.3 1380.3 1997.3 1380.3C1999.3 1380.3 2001.3 1380.3 2003.3 1380.3C2005.3 1380.3 2007.3 1380.3 2009.3 1380.3C2011.3 1380.3 2013.3 1380.3 2015.3 1380.3C2017.3 1380.3 2019.3 1380.3 2021.4 1380.3C2023.4 1380.3 2025.4 1380.3 2027.4 1380.3C2029.4 1380.3 2031.4 1380.3 2033.4 1380.3C2035.4 1380.3 2037.4 1380.3 2039.4 1380.3C2041.4 1380.3 2043.4 1380.3 2045.4 1380.3C2047.4 1380.4 2049.4 1380.4 2051.4 1380.4C2053.4 1380.4 2055.4 1380.4 2057.4 1380.4C2059.4 1380.4 2061.4 1380.4 2063.4 1380.4C2065.4 1380.4 2067.4 1380.4 2069.5 1380.4C2071.5 1380.4 2073.5 1380.4 2075.5 1380.4C2077.5 1380.4 2079.5 1380.4 2081.5 1380.5C2083.5 1380.5 2085.5 1380.5 2087.5 1380.5C2089.5 1380.5 2092.5 1380.5 2093.5 1380.5" fill="none" stroke="#FF8000" stroke-width="11.5" stroke-linejoin="round" stroke-linecap="square"/>
<path d="M240.5 706.3C240.6 705.3 240.8 702.3 240.9 700.3C241.0 698.3 241.2 696.3 241.3 694.3C241.4 692.2 241.5 690.2 241.7 688.2C241.8 686.2 241.9 684.2 242.1 682.2C242.2 680.2 242.3 678.2 242.4 676.2C242.6 674.2 242.7 672.2 242.8 670.1C242.9 668.1 243.0 666.1 243.2 664.1C243.3 662.1 243.4 660.1 243.5 658.1C243.6 656.1 243.7 654.1 243.9 652.1C244.0 650.0 244.1 648.0 244.2 646.0C244.3 644.0 244.4 642.0 244.5 640.0C244.7 638.0 244.8 636.0 244.9 634.0C245.0 632.0 245.1 629.9 245.2 627.9C245.3 625.9 245.4 623.9 245.6 621.9C245.7 619.9 245.8 617.9 245.9 615.9C246.0 613.8 246.1 611.8 246.2 609.8C246.3 607.8 246.4 605.8 246.6 603.8C246.7 601.8 246.8 599.8 246.9 597.8C247.0 595.7 247.1 593.7 247.2 591.7C247.3 589.7 247.4 587.7 247.5 585.7C247.6 583.7 247.8 581.7 247.9 579.6C248.0 577.6 248.1 575.6 248.2 573.6C248.3 571.6 248.4 569.6 248.5 567.6C248.6 565.6 248.8 563.5 248.9 561.5C249.0 559.5 249.1 557.5 249.2 555.5C249.3 553.5 249.4 551.5 249.5 549.5C249.7 547.5 249.8 545.4 249.9 543.4C250.0 541.4 250.1 539.4 250.2 537.4C250.3 535.4 250.5 533.4 250.6 531.4C250.7 529.3 250.8 527.3 250.9 525.3C251.1 523.3 251.2 521.3 251.3 519.3C251.4 517.3 251.5 515.3 251.7 513.3C251.8 511.2 251.9 509.2 252.0 507.2C252.2 505.2 252.3 503.2 252.4 501.2C252.5 499.2 252.7 497.2 252.8 495.2C252.9 493.1 253.1 491.1 253.2 489.1C253.3 487.1 253.5 485.1 253.6 483.1C253.7 481.1 253.9 479.1 254.0 477.1C254.1 475.1 254.3 473.0 254.4 471.0C254.6 469.0 254.7 467.0 254.9 465.0C255.0 463.0 255.1 461.0 255.3 459.0C255.4 457.0 255.6 455.0 255.7 453.0C255.9 450.9 256.0 448.9 256.2 446.9C256.3 444.9 256.5 442.9 256.7 440.9C256.8 438.9 257.0 436.9 257.1 434.9C257.3 432.9 257.5 430.9 257.6 428.9C257.8 426.9 258.0 424.8 258.1 422.8C258.3 420.8 258.5 418.8 258.7 416.8C258.8 414.8 259.0 412.8 259.2 410.8C259.4 408.8 259.5 406.8 259.7 404.8C259.9 402.8 260.1 400.8 260.3 398.8C260.5 396.8 260.7 394.8 260.9 392.8C261.0 390.8 261.2 388.8 261.4 386.8C261.6 384.7 261.8 382.7 262.0 380.7C262.2 378.7 262.5 376.7 262.7 374.7C262.9 372.7 263.1 370.7 263.3 368.7C263.5 366.7 263.7 364.7 263.9 362.7C264.2 360.7 264.4 358.7 264.6 356.7C264.8 354.7 265.1 352.7 265.3 350.7C265.5 348.7 265.8 346.7 266.0 344.7C266.2 342.7 266.5 340.7 266.7 338.7C267.0 336.7 267.2 334.7 267.5 332.7C267.7 330.7 268.0 328.7 268.2 326.7C268.5 324.7 268.7 322.8 269.0 320.8C269.3 318.8 269.5 316.8 269.8 314.8C270.1 312.8 270.4 310.8 270.6 308.8C270.9 306.8 271.2 304.8 271.5 302.8C271.8 300.8 272.0 298.8 272.3 296.8C272.6 294.8 272.9 292.8 273.2 290.8C273.5 288.9 273.8 286.9 274.1 284.9C274.4 282.9 274.7 280.9 275.1 278.9C275.4 276.9 275.7 274.9 276.0 272.9C276.3 270.9 276.7 269.0 277.0 267.0C277.3 265.0 277.8 262.0 278.0 261.0C279.2 260.3 283.8 257.7 285.0 257.0C285.4 254.5 286.7 246.5 287.5 242.0C288.3 237.5 289.6 232.0 290.0 230.0C290.1 231.0 290.3 234.0 290.4 236.0C290.6 238.0 290.7 240.0 290.8 242.0C291.0 244.0 291.1 246.0 291.3 248.0C291.4 250.0 291.5 252.0 291.7 254.0C291.8 256.0 291.9 258.0 292.1 260.0C292.2 262.0 292.3 264.1 292.5 266.1C292.6 268.1 292.7 270.1 292.9 272.1C293.0 274.1 293.1 276.1 293.3 278.1C293.4 280.1 293.5 282.1 293.7 284.1C293.8 286.1 293.9 288.1 294.1 290.1C294.2 292.1 294.3 294.1 294.5 296.1C294.6 298.1 294.7 300.1 294.9 302.1C295.0 304.1 295.1 306.1 295.3 308.1C295.4 310.1 295.5 312.1 295.6 314.1C295.8 316.1 295.9 318.1 296.0 320.1C296.2 322.1 296.3 324.1 296.4 326.1C296.5 328.1 296.7 330.1 296.8 332.1C296.9 334.1 297.1 336.1 297.2 338.1C297.3 340.1 297.4 342.1 297.6 344.1C297.7 346.1 297.8 348.1 297.9 350.1C298.1 352.1 298.2 354.1 298.3 356.1C298.4 358.1 298.6 360.1 298.7 362.1C298.8 364.1 298.9 366.1 299.1 368.1C299.2 370.1 299.3 372.1 299.4 374.1C299.6 376.1 299.7 378.1 299.8 380.1C299.9 382.1 300.0 384.1 300.2 386.1C300.3 388.1 300.4 390.1 300.5 392.1C300.7 394.1 300.8 396.1 300.9 398.1C301.0 400.1 301.1 402.1 301.3 404.2C301.4 406.2 301.5 408.2 301.6 410.2C301.8 412.2 301.9 414.2 302.0 416.2C302.1 418.2 302.2 420.2 302.4 422.2C302.5 424.2 302.6 426.2 302.7 428.2C302.8 430.2 303.0 432.2 303.1 434.2C303.2 436.2 303.3 438.2 303.4 440.2C303.6 442.2 303.7 444.2 303.8 446.2C303.9 448.2 304.0 450.2 304.2 452.2C304.3 454.2 304.4 456.2 304.5 458.2C304.6 460.2 304.8 462.2 304.9 464.2C305.0 466.2 305.1 468.2 305.2 470.2C305.3 472.2 305.5 474.2 305.6 476.2C305.7 478.2 305.8 480.2 305.9 482.2C306.1 484.2 306.2 486.2 306.3 488.2C306.4 490.2 306.5 492.2 306.7 494.2C306.8 496.2 306.9 498.2 307.0 500.2C307.1 502.2 307.2 504.3 307.4 506.3C307.5 508.3 307.6 510.3 307.7 512.3C307.8 514.3 308.0 516.3 308.1 518.3C308.2 520.3 308.3 522.3 308.4 524.3C308.5 526.3 308.7 528.3 308.8 530.3C308.9 532.3 309.0 534.3 309.1 536.3C309.3 538.3 309.4 540.3 309.5 542.3C309.6 544.3 309.7 546.3 309.8 548.3C310.0 550.3 310.1 552.4 310.2 554.4C310.3 556.4 310.4 558.4 310.6 560.4C310.7 562.4 310.8 564.4 310.9 566.4C311.0 568.4 311.2 570.4 311.3 572.4C311.4 574.4 311.5 576.4 311.6 578.4C311.8 580.4 311.9 582.4 312.0 584.4C312.1 586.5 312.2 588.5 312.4 590.5C312.5 592.5 312.6 594.5 312.7 596.5C312.8 598.5 313.0 600.5 313.1 602.5C313.2 604.5 313.3 606.5 313.4 608.5C313.6 610.5 313.7 612.6 313.8 614.6C313.9 616.6 314.0 618.6 314.2 620.6C314.3 622.6 314.4 624.6 314.5 626.6C314.7 628.6 314.8 630.6 314.9 632.6C315.0 634.7 315.1 636.7 315.3 638.7C315.4 640.7 315.5 642.7 315.6 644.7C315.8 646.7 315.9 648.7 316.0 650.7C316.1 652.7 316.3 654.7 316.4 656.8C316.5 658.8 316.7 660.8 316.8 662.8C316.9 664.8 317.0 666.8 317.2 668.8C317.3 670.8 317.4 672.8 317.6 674.8C317.7 676.8 317.8 678.8 318.0 680.8C318.1 682.9 318.2 684.9 318.4 686.9C318.5 688.9 318.7 690.9 318.8 692.9C318.9 694.9 319.1 696.9 319.2 698.9C319.4 700.9 319.5 702.9 319.6 704.9C319.8 706.9 319.9 708.9 320.1 710.9C320.2 712.9 320.4 714.9 320.5 716.9C320.7 718.9 320.8 720.9 321.0 722.9C321.2 724.9 321.3 726.9 321.5 728.9C321.6 730.9 321.8 732.9 322.0 734.9C322.1 736.9 322.3 738.9 322.4 740.9C322.6 742.9 322.8 744.9 322.9 746.9C323.1 748.9 323.3 750.9 323.5 752.9C323.6 754.9 323.8 756.9 324.0 758.8C324.2 760.8 324.4 762.8 324.5 764.8C324.7 766.8 324.9 768.8 325.1 770.8C325.3 772.8 325.5 774.7 325.7 776.7C325.9 778.7 326.1 780.7 326.3 782.7C326.5 784.7 326.7 786.6 326.9 788.6C327.1 790.6 327.3 792.6 327.5 794.6C327.7 796.5 327.9 798.5 328.1 800.5C328.3 802.5 328.6 804.4 328.8 806.4C329.0 808.4 329.2 810.3 329.4 812.3C329.7 814.3 329.9 816.3 330.1 818.2C330.4 820.2 330.6 822.2 330.9 824.1C331.1 826.1 331.4 828.1 331.6 830.0C331.9 832.0 332.1 834.0 332.4 836.0C332.7 837.9 332.9 839.9 333.2 841.9C333.5 843.9 333.8 845.9 334.1 847.8C334.4 849.8 334.7 851.8 335.0 853.8C335.3 855.8 335.7 857.8 336.0 859.8C336.3 861.8 336.7 863.8 337.0 865.9C337.4 867.9 337.8 869.9 338.1 871.9C338.5 873.9 338.9 876.0 339.3 878.0C339.7 880.1 340.1 882.1 340.5 884.2C340.9 886.2 341.4 888.3 341.8 890.4C342.3 892.4 342.7 894.5 343.2 896.6C343.7 898.7 344.2 900.8 344.8 902.8C345.4 904.9 346.0 907.0 346.8 909.0C347.5 911.1 348.3 913.1 349.2 915.1C350.1 917.1 351.1 919.2 352.2 921.0C353.3 922.9 354.5 925.0 355.8 926.5C357.0 928.0 358.4 929.4 359.6 930.1C360.8 930.9 362.0 931.1 363.2 930.9C364.3 930.7 365.5 930.0 366.5 929.1C367.6 928.2 368.6 926.9 369.6 925.5C370.6 924.1 371.6 922.4 372.5 920.7C373.5 919.0 374.4 917.2 375.3 915.4C376.2 913.6 377.0 911.8 377.9 910.0C378.8 908.1 379.6 906.3 380.4 904.5C381.2 902.7 382.0 900.8 382.8 899.0C383.5 897.2 384.3 895.3 385.0 893.5C385.7 891.6 386.5 889.7 387.1 887.9C387.8 886.0 388.5 884.1 389.2 882.3C389.8 880.4 390.5 878.5 391.1 876.6C391.7 874.7 392.3 872.8 392.9 870.9C393.5 869.0 394.1 867.1 394.7 865.2C395.2 863.3 395.8 861.3 396.3 859.4C396.9 857.5 397.4 855.6 397.9 853.6C398.4 851.7 398.9 849.8 399.4 847.8C399.9 845.9 400.3 843.9 400.8 842.0C401.2 840.0 401.7 838.1 402.1 836.1C402.6 834.2 403.0 832.2 403.4 830.3C403.8 828.3 404.2 826.3 404.6 824.4C405.0 822.4 405.4 820.4 405.8 818.4C406.2 816.5 406.5 814.5 406.9 812.5C407.2 810.5 407.6 808.5 407.9 806.6C408.3 804.6 408.6 802.6 409.0 800.6C409.3 798.6 409.6 796.6 409.9 794.6C410.3 792.6 410.6 790.6 410.9 788.6C411.2 786.6 411.5 784.6 411.8 782.7C412.1 780.7 412.4 778.7 412.7 776.7C413.0 774.7 413.3 772.7 413.6 770.7C413.9 768.7 414.2 766.7 414.5 764.7C414.8 762.7 415.0 760.7 415.3 758.7C415.6 756.7 415.9 754.7 416.2 752.7C416.5 750.7 416.8 748.7 417.0 746.7C417.3 744.7 417.6 742.7 417.9 740.7C418.2 738.7 418.5 736.7 418.8 734.7C419.0 732.7 419.3 730.7 419.6 728.7C419.9 726.7 420.2 724.7 420.5 722.7C420.8 720.7 421.1 718.8 421.4 716.8C421.6 714.8 421.9 712.8 422.2 710.8C422.5 708.8 422.8 706.8 423.1 704.8C423.4 702.8 423.7 700.9 424.0 698.9C424.2 696.9 424.5 694.9 424.8 692.9C425.1 690.9 425.4 688.9 425.7 686.9C426.0 685.0 426.3 683.0 426.6 681.0C426.8 679.0 427.1 677.0 427.4 675.0C427.7 673.0 428.0 671.1 428.3 669.1C428.6 667.1 428.9 665.1 429.1 663.1C429.4 661.1 429.7 659.2 430.0 657.2C430.3 655.2 430.6 653.2 430.9 651.2C431.1 649.2 431.4 647.3 431.7 645.3C432.0 643.3 432.3 641.3 432.6 639.3C432.8 637.3 433.1 635.4 433.4 633.4C433.7 631.4 434.0 629.4 434.3 627.4C434.5 625.4 434.8 623.5 435.1 621.5C435.4 619.5 435.6 617.5 435.9 615.5C436.2 613.6 436.5 611.6 436.7 609.6C437.0 607.6 437.3 605.6 437.6 603.6C437.8 601.7 438.1 599.7 438.4 597.7C438.6 595.7 438.9 593.7 439.2 591.7C439.5 589.7 439.7 587.8 440.0 585.8C440.2 583.8 440.5 581.8 440.8 579.8C441.0 577.8 441.3 575.9 441.6 573.9C441.8 571.9 442.1 569.9 442.3 567.9C442.6 565.9 442.9 563.9 443.1 561.9C443.4 560.0 443.6 558.0 443.9 556.0C444.1 554.0 444.4 552.0 444.6 550.0C444.9 548.0 445.1 546.0 445.4 544.0C445.6 542.1 445.8 540.1 446.1 538.1C446.3 536.1 446.6 534.1 446.8 532.1C447.1 530.1 447.3 528.1 447.5 526.1C447.8 524.1 448.0 522.1 448.2 520.1C448.5 518.1 448.7 516.2 449.0 514.2C449.2 512.2 449.4 510.2 449.7 508.2C449.9 506.2 450.1 504.2 450.4 502.2C450.6 500.2 450.8 498.2 451.1 496.2C451.3 494.2 451.5 492.2 451.8 490.2C452.0 488.2 452.2 486.2 452.5 484.2C452.7 482.2 452.9 480.2 453.2 478.2C453.4 476.3 453.6 474.3 453.9 472.3C454.1 470.3 454.3 468.3 454.6 466.3C454.8 464.3 455.0 462.3 455.3 460.3C455.5 458.3 455.7 456.3 456.0 454.3C456.2 452.3 456.5 450.3 456.7 448.3C456.9 446.3 457.2 444.3 457.4 442.3C457.7 440.3 457.9 438.3 458.1 436.3C458.4 434.3 458.6 432.4 458.9 430.4C459.1 428.4 459.4 426.4 459.6 424.4C459.9 422.4 460.1 420.4 460.4 418.4C460.7 416.4 460.9 414.4 461.2 412.4C461.4 410.4 461.7 408.4 461.9 406.4C462.2 404.5 462.5 402.5 462.7 400.5C463.0 398.5 463.3 396.5 463.6 394.5C463.8 392.5 464.1 390.5 464.4 388.5C464.7 386.5 464.9 384.6 465.2 382.6C465.5 380.6 465.8 378.6 466.1 376.6C466.4 374.6 466.7 372.6 467.0 370.7C467.2 368.7 467.5 366.7 467.8 364.7C468.1 362.7 468.5 360.7 468.8 358.8C469.1 356.8 469.4 354.8 469.7 352.8C470.0 350.8 470.3 348.9 470.6 346.9C471.0 344.9 471.3 342.9 471.6 340.9C472.0 339.0 472.3 337.0 472.6 335.0C473.0 333.0 473.3 331.1 473.7 329.1C474.0 327.1 474.3 325.1 474.7 323.2C475.1 321.2 475.4 319.2 475.8 317.3C476.1 315.3 476.5 313.3 476.9 311.3C477.3 309.4 477.6 307.4 478.0 305.4C478.4 303.5 478.8 301.5 479.2 299.6C479.6 297.6 480.0 295.6 480.4 293.7C480.8 291.7 481.2 289.7 481.6 287.8C482.0 285.8 482.4 283.9 482.8 281.9C483.3 280.0 483.7 278.0 484.1 276.0C484.6 274.1 485.0 272.1 485.5 270.2C485.9 268.2 486.4 266.3 486.8 264.3C487.3 262.4 487.7 260.4 488.2 258.5C488.7 256.6 489.2 254.6 489.6 252.7C490.1 250.7 490.6 248.8 491.1 246.8C491.6 244.9 492.1 243.0 492.6 241.0C493.1 239.1 493.6 237.1 494.1 235.2C494.7 233.3 495.2 231.3 495.7 229.4C496.3 227.5 496.8 225.6 497.4 223.6C497.9 221.7 498.5 219.8 499.0 217.9C499.6 215.9 500.2 214.0 500.7 212.1C501.3 210.2 501.9 208.2 502.5 206.3C503.1 204.4 503.7 202.5 504.3 200.6C504.9 198.7 505.5 196.7 506.1 194.8C506.8 192.9 507.4 191.0 508.0 189.1C508.7 187.2 509.3 185.3 510.0 183.4C510.6 181.5 511.3 179.6 512.0 177.7C512.6 175.8 513.7 172.9 514.0 172.0C514.5 171.5 516.5 169.5 517.0 169.0C517.2 170.0 518.0 172.9 518.4 174.8C518.8 176.8 519.2 178.7 519.5 180.7C519.9 182.7 520.1 184.6 520.4 186.6C520.7 188.6 520.9 190.6 521.1 192.6C521.3 194.6 521.5 196.6 521.7 198.6C521.9 200.6 522.1 202.6 522.2 204.5C522.4 206.5 522.6 208.5 522.8 210.5C523.0 212.5 523.3 214.5 523.5 216.5C523.8 218.5 524.0 220.4 524.3 222.4C524.7 224.4 525.0 226.3 525.4 228.3C525.8 230.2 526.2 232.2 526.6 234.1C527.1 236.0 527.6 237.9 528.0 239.9C528.5 241.8 529.1 243.7 529.6 245.6C530.1 247.5 530.7 249.4 531.3 251.3C531.8 253.2 532.4 255.1 533.0 257.0C533.6 258.9 534.2 260.8 534.8 262.7C535.4 264.6 536.0 266.5 536.6 268.4C537.2 270.3 537.9 272.2 538.5 274.1C539.1 276.0 539.7 277.9 540.3 279.8C540.9 281.7 541.5 283.6 542.0 285.5C542.6 287.4 543.1 289.3 543.7 291.2C544.2 293.1 544.7 295.0 545.3 297.0C545.8 298.9 546.3 300.8 546.7 302.7C547.2 304.7 547.7 306.6 548.1 308.5C548.6 310.5 549.0 312.4 549.5 314.4C549.9 316.3 550.3 318.3 550.7 320.2C551.1 322.1 551.5 324.1 551.9 326.1C552.3 328.0 552.6 330.0 553.0 331.9C553.3 333.9 553.7 335.9 554.0 337.8C554.3 339.8 554.7 341.8 555.0 343.7C555.3 345.7 555.6 347.7 555.9 349.6C556.2 351.6 556.5 353.6 556.8 355.6C557.1 357.6 557.3 359.5 557.6 361.5C557.9 363.5 558.1 365.5 558.4 367.5C558.6 369.5 558.9 371.5 559.1 373.4C559.3 375.4 559.6 377.4 559.8 379.4C560.0 381.4 560.2 383.4 560.5 385.4C560.7 387.4 560.9 389.4 561.1 391.4C561.3 393.4 561.5 395.4 561.7 397.4C561.9 399.4 562.1 401.4 562.3 403.4C562.5 405.4 562.7 407.4 562.9 409.4C563.1 411.4 563.2 413.4 563.4 415.4C563.6 417.4 563.8 419.4 564.0 421.4C564.2 423.4 564.3 425.4 564.5 427.4C564.7 429.4 564.9 431.4 565.1 433.4C565.2 435.4 565.4 437.4 565.6 439.4C565.8 441.4 566.0 443.4 566.2 445.4C566.4 447.4 566.5 449.3 566.7 451.3C566.9 453.3 567.1 455.3 567.3 457.3C567.5 459.3 567.7 461.3 567.8 463.3C568.0 465.3 568.2 467.3 568.4 469.3C568.6 471.3 568.8 473.3 569.0 475.3C569.2 477.3 569.4 479.3 569.5 481.3C569.7 483.3 569.9 485.3 570.1 487.2C570.3 489.2 570.5 491.2 570.7 493.2C570.9 495.2 571.1 497.2 571.3 499.2C571.5 501.2 571.7 503.2 571.8 505.2C572.0 507.2 572.2 509.2 572.4 511.1C572.6 513.1 572.8 515.1 573.0 517.1C573.2 519.1 573.4 521.1 573.6 523.1C573.8 525.1 574.0 527.1 574.2 529.0C574.4 531.0 574.6 533.0 574.8 535.0C575.0 537.0 575.2 539.0 575.4 541.0C575.6 543.0 575.8 545.0 576.0 546.9C576.2 548.9 576.4 550.9 576.6 552.9C576.8 554.9 577.0 556.9 577.2 558.9C577.4 560.9 577.6 562.8 577.8 564.8C578.0 566.8 578.2 568.8 578.4 570.8C578.6 572.8 578.8 574.8 579.0 576.7C579.2 578.7 579.4 580.7 579.6 582.7C579.8 584.7 580.0 586.7 580.2 588.7C580.4 590.6 580.6 592.6 580.8 594.6C581.0 596.6 581.2 598.6 581.4 600.6C581.6 602.6 581.8 604.6 582.0 606.5C582.2 608.5 582.4 610.5 582.6 612.5C582.8 614.5 583.0 616.5 583.2 618.5C583.4 620.4 583.7 622.4 583.9 624.4C584.1 626.4 584.3 628.4 584.5 630.4C584.7 632.4 584.9 634.3 585.1 636.3C585.3 638.3 585.5 640.3 585.7 642.3C585.9 644.3 586.1 646.3 586.3 648.2C586.5 650.2 586.7 652.2 586.9 654.2C587.1 656.2 587.4 658.2 587.6 660.2C587.8 662.1 588.0 664.1 588.2 666.1C588.4 668.1 588.6 670.1 588.8 672.1C589.0 674.1 589.2 676.1 589.4 678.0C589.6 680.0 589.8 682.0 590.0 684.0C590.2 686.0 590.5 688.0 590.7 690.0C590.9 692.0 591.1 693.9 591.3 695.9C591.5 697.9 591.7 699.9 591.9 701.9C592.1 703.9 592.3 705.9 592.5 707.9C592.7 709.8 592.9 711.8 593.1 713.8C593.4 715.8 593.6 717.8 593.8 719.8C594.0 721.8 594.2 723.8 594.4 725.8C594.6 727.8 594.8 729.7 595.0 731.7C595.2 733.7 595.4 735.7 595.6 737.7C595.8 739.7 596.0 741.7 596.2 743.7C596.5 745.7 596.7 747.7 596.9 749.7C597.1 751.7 597.3 753.7 597.5 755.6C597.7 757.6 597.9 759.6 598.1 761.6C598.3 763.6 598.5 765.6 598.7 767.6C598.9 769.6 599.1 771.6 599.3 773.6C599.5 775.6 599.8 777.6 600.0 779.6C600.2 781.6 600.4 783.6 600.6 785.6C600.8 787.6 601.0 789.6 601.2 791.6C601.4 793.5 601.6 795.5 601.8 797.5C602.1 799.5 602.3 801.5 602.5 803.5C602.7 805.5 602.9 807.5 603.1 809.5C603.3 811.5 603.6 813.5 603.8 815.5C604.0 817.5 604.2 819.5 604.4 821.5C604.7 823.5 604.9 825.5 605.1 827.5C605.3 829.5 605.5 831.5 605.8 833.5C606.0 835.4 606.2 837.4 606.4 839.4C606.7 841.4 606.9 843.4 607.1 845.4C607.4 847.4 607.6 849.4 607.8 851.4C608.1 853.4 608.3 855.4 608.5 857.4C608.8 859.4 609.0 861.4 609.3 863.3C609.5 865.3 609.7 867.3 610.0 869.3C610.2 871.3 610.5 873.3 610.7 875.3C611.0 877.3 611.2 879.3 611.5 881.2C611.7 883.2 612.0 885.2 612.3 887.2C612.5 889.2 612.8 891.2 613.0 893.2C613.3 895.2 613.6 897.1 613.8 899.1C614.1 901.1 614.4 903.1 614.7 905.1C614.9 907.1 615.2 909.0 615.5 911.0C615.8 913.0 616.1 915.0 616.3 917.0C616.6 918.9 616.9 920.9 617.2 922.9C617.5 924.9 617.8 926.9 618.1 928.8C618.4 930.8 618.7 932.8 619.0 934.8C619.3 936.7 619.6 938.7 619.9 940.7C620.2 942.7 620.6 944.6 620.9 946.6C621.2 948.6 621.5 950.5 621.8 952.5C622.2 954.5 622.5 956.5 622.8 958.4C623.2 960.4 623.5 962.4 623.8 964.3C624.2 966.3 624.5 968.2 624.9 970.2C625.2 972.2 625.6 974.1 625.9 976.1C626.3 978.1 626.6 980.0 627.0 982.0C627.4 983.9 627.7 985.9 628.1 987.8C628.5 989.8 628.9 991.7 629.3 993.7C629.6 995.7 630.0 997.6 630.4 999.6C630.8 1001.5 631.2 1003.5 631.6 1005.4C632.0 1007.4 632.4 1009.3 632.8 1011.2C633.2 1013.2 633.6 1015.1 634.0 1017.1C634.5 1019.0 634.9 1021.0 635.3 1022.9C635.7 1024.8 636.2 1026.8 636.6 1028.7C637.1 1030.6 637.5 1032.6 637.9 1034.5C638.4 1036.4 638.8 1038.4 639.3 1040.3C639.8 1042.2 640.2 1044.2 640.7 1046.1C641.2 1048.0 641.6 1049.9 642.1 1051.9C642.6 1053.8 643.1 1055.7 643.6 1057.6C644.1 1059.5 644.6 1061.5 645.1 1063.4C645.6 1065.3 646.1 1067.2 646.6 1069.1C647.1 1071.0 647.6 1073.0 648.2 1074.9C648.7 1076.8 649.2 1078.7 649.8 1080.6C650.3 1082.5 650.9 1084.4 651.4 1086.3C652.0 1088.2 652.6 1090.1 653.1 1092.0C653.7 1093.9 654.3 1095.8 654.9 1097.7C655.5 1099.6 656.1 1101.5 656.8 1103.4C657.4 1105.3 658.0 1107.2 658.7 1109.1C659.3 1111.0 660.0 1112.8 660.7 1114.7C661.4 1116.6 662.1 1118.5 662.8 1120.4C663.5 1122.3 664.2 1124.2 665.0 1126.1C665.7 1128.0 666.5 1129.8 667.3 1131.7C668.1 1133.6 668.9 1135.5 669.7 1137.4C670.5 1139.3 671.4 1141.1 672.3 1143.0C673.1 1144.9 674.0 1146.8 674.9 1148.7C675.8 1150.6 676.8 1152.4 677.7 1154.3C678.7 1156.2 679.7 1158.1 680.7 1159.9C681.7 1161.8 682.7 1163.7 683.7 1165.5C684.8 1167.3 685.9 1169.1 687.0 1170.9C688.1 1172.7 689.2 1174.5 690.4 1176.2C691.6 1177.9 692.8 1179.6 694.0 1181.3C695.2 1182.9 696.5 1184.5 697.8 1186.1C699.0 1187.6 700.4 1189.2 701.7 1190.6C703.1 1192.1 704.5 1193.5 705.9 1194.8C707.3 1196.1 708.8 1197.4 710.3 1198.6C711.8 1199.7 713.3 1200.9 714.9 1201.9C716.4 1202.9 718.0 1203.9 719.7 1204.8C721.3 1205.6 723.0 1206.4 724.7 1207.1C726.5 1207.8 728.2 1208.4 730.0 1209.0C731.8 1209.5 733.6 1210.0 735.5 1210.4C737.3 1210.8 739.2 1211.1 741.1 1211.4C743.0 1211.6 745.0 1211.8 746.9 1212.0C748.9 1212.2 750.8 1212.3 752.8 1212.3C754.8 1212.4 756.9 1212.4 758.9 1212.4C760.9 1212.4 762.9 1212.4 765.0 1212.3C767.0 1212.2 769.1 1212.1 771.2 1212.0C773.3 1211.9 775.3 1211.7 777.4 1211.6C779.5 1211.4 781.6 1211.2 783.7 1211.0C785.7 1210.9 787.8 1210.7 789.9 1210.5C792.0 1210.3 794.1 1210.2 796.1 1210.0C798.2 1209.8 800.3 1209.7 802.3 1209.5C804.4 1209.4 806.4 1209.3 808.4 1209.2C810.4 1209.1 812.5 1209.0 814.5 1209.0C816.4 1209.0 818.4 1209.0 820.4 1209.0C822.3 1209.1 824.2 1209.2 826.1 1209.3C828.0 1209.4 829.9 1209.6 831.8 1209.9C833.6 1210.1 835.4 1210.4 837.2 1210.8C839.0 1211.1 840.8 1211.5 842.6 1212.0C844.3 1212.4 846.0 1213.0 847.8 1213.5C849.5 1214.1 851.1 1214.8 852.8 1215.5C854.5 1216.2 856.1 1216.9 857.8 1217.7C859.4 1218.6 861.0 1219.4 862.6 1220.4C864.3 1221.3 865.8 1222.3 867.4 1223.4C869.0 1224.5 870.6 1225.6 872.2 1226.8C873.7 1228.0 875.3 1229.3 876.8 1230.6C878.4 1232.0 879.9 1233.4 881.4 1234.8C882.9 1236.2 884.5 1237.7 885.9 1239.2C887.4 1240.7 888.9 1242.2 890.4 1243.8C891.8 1245.3 893.3 1246.9 894.7 1248.5C896.1 1250.1 897.5 1251.7 898.9 1253.3C900.3 1254.9 901.7 1256.5 903.0 1258.1C904.4 1259.7 905.7 1261.2 907.0 1262.8C908.3 1264.4 909.6 1266.0 910.8 1267.5C912.1 1269.1 913.3 1270.7 914.6 1272.2C915.8 1273.8 917.0 1275.4 918.2 1276.9C919.4 1278.5 920.6 1280.1 921.8 1281.6C923.0 1283.2 924.2 1284.8 925.3 1286.3C926.5 1287.9 927.6 1289.5 928.8 1291.1C929.9 1292.6 931.1 1294.2 932.2 1295.8C933.4 1297.4 934.5 1299.0 935.7 1300.6C936.8 1302.2 937.9 1303.8 939.1 1305.5C940.2 1307.1 941.4 1308.7 942.5 1310.4C943.6 1312.0 944.8 1313.7 945.9 1315.3C947.1 1317.0 948.3 1318.7 949.4 1320.3C950.6 1322.0 951.8 1323.7 953.0 1325.4C954.2 1327.0 955.4 1328.7 956.7 1330.3C957.9 1331.9 959.2 1333.5 960.5 1335.0C961.8 1336.6 963.2 1338.1 964.6 1339.5C965.9 1340.9 967.3 1342.3 968.8 1343.6C970.3 1345.0 971.8 1346.2 973.3 1347.4C974.9 1348.5 976.5 1349.6 978.1 1350.6C979.8 1351.6 981.5 1352.4 983.3 1353.2C985.1 1354.0 986.9 1354.7 988.8 1355.3C990.6 1355.9 992.5 1356.4 994.5 1356.9C996.4 1357.4 998.3 1357.8 1000.3 1358.1C1002.3 1358.5 1004.2 1358.8 1006.2 1359.0C1008.2 1359.3 1010.2 1359.5 1012.2 1359.6C1014.1 1359.8 1016.1 1360.0 1018.1 1360.1C1020.1 1360.2 1022.1 1360.2 1024.1 1360.3C1026.1 1360.3 1028.1 1360.3 1030.1 1360.3C1032.1 1360.3 1034.1 1360.3 1036.1 1360.2C1038.1 1360.2 1040.1 1360.1 1042.1 1360.0C1044.1 1359.9 1046.1 1359.8 1048.1 1359.7C1050.1 1359.6 1052.1 1359.5 1054.1 1359.4C1056.2 1359.3 1058.2 1359.1 1060.2 1359.0C1062.2 1358.9 1064.2 1358.7 1066.2 1358.6C1068.2 1358.5 1070.2 1358.4 1072.2 1358.3C1074.2 1358.2 1076.3 1358.0 1078.3 1357.9C1080.3 1357.8 1082.3 1357.8 1084.3 1357.7C1086.3 1357.6 1088.3 1357.5 1090.3 1357.4C1092.3 1357.3 1094.3 1357.3 1096.3 1357.2C1098.3 1357.1 1100.3 1357.1 1102.3 1357.0C1104.4 1356.9 1106.4 1356.9 1108.4 1356.8C1110.4 1356.8 1112.4 1356.8 1114.4 1356.7C1116.4 1356.7 1118.4 1356.6 1120.4 1356.6C1122.4 1356.6 1124.4 1356.6 1126.4 1356.5C1128.4 1356.5 1130.4 1356.5 1132.4 1356.5C1134.4 1356.5 1136.4 1356.5 1138.4 1356.5C1140.4 1356.5 1142.4 1356.5 1144.4 1356.5C1146.4 1356.5 1148.4 1356.5 1150.4 1356.5C1152.4 1356.5 1154.4 1356.6 1156.4 1356.6C1158.5 1356.6 1160.5 1356.6 1162.5 1356.7C1164.5 1356.7 1166.5 1356.7 1168.5 1356.8C1170.5 1356.8 1172.5 1356.8 1174.5 1356.9C1176.5 1356.9 1178.5 1357.0 1180.5 1357.0C1182.5 1357.1 1184.5 1357.1 1186.5 1357.2C1188.5 1357.2 1190.5 1357.3 1192.5 1357.4C1194.5 1357.4 1196.5 1357.5 1198.5 1357.6C1200.5 1357.6 1202.5 1357.7 1204.5 1357.8C1206.4 1357.9 1208.4 1357.9 1210.4 1358.0C1212.4 1358.1 1214.4 1358.2 1216.4 1358.3C1218.4 1358.4 1220.4 1358.5 1222.4 1358.5C1224.4 1358.6 1226.4 1358.7 1228.4 1358.8C1230.4 1358.9 1232.4 1359.0 1234.4 1359.1C1236.4 1359.2 1238.4 1359.3 1240.4 1359.4C1242.4 1359.5 1244.4 1359.6 1246.4 1359.7C1248.4 1359.9 1250.4 1360.0 1252.4 1360.1C1254.4 1360.2 1256.4 1360.3 1258.4 1360.4C1260.4 1360.5 1262.4 1360.6 1264.4 1360.8C1266.4 1360.9 1268.4 1361.0 1270.4 1361.1C1272.4 1361.2 1274.4 1361.4 1276.4 1361.5C1278.3 1361.6 1280.3 1361.7 1282.3 1361.9C1284.3 1362.0 1286.3 1362.1 1288.3 1362.2C1290.3 1362.4 1292.3 1362.5 1294.3 1362.6C1296.3 1362.8 1298.3 1362.9 1300.3 1363.0C1302.3 1363.2 1304.3 1363.3 1306.3 1363.4C1308.3 1363.5 1310.3 1363.7 1312.3 1363.8C1314.3 1363.9 1316.3 1364.1 1318.3 1364.2C1320.3 1364.3 1322.3 1364.5 1324.2 1364.6C1326.2 1364.7 1328.2 1364.9 1330.2 1365.0C1332.2 1365.1 1334.2 1365.3 1336.2 1365.4C1338.2 1365.5 1340.2 1365.7 1342.2 1365.8C1344.2 1365.9 1346.2 1366.1 1348.2 1366.2C1350.2 1366.3 1352.2 1366.5 1354.2 1366.6C1356.2 1366.7 1358.2 1366.9 1360.2 1367.0C1362.2 1367.1 1364.2 1367.3 1366.2 1367.4C1368.2 1367.5 1370.1 1367.6 1372.1 1367.8C1374.1 1367.9 1376.1 1368.0 1378.1 1368.2C1380.1 1368.3 1382.1 1368.4 1384.1 1368.5C1386.1 1368.6 1388.1 1368.8 1390.1 1368.9C1392.1 1369.0 1394.1 1369.1 1396.1 1369.2C1398.1 1369.4 1400.1 1369.5 1402.1 1369.6C1404.1 1369.7 1406.1 1369.8 1408.1 1369.9C1410.1 1370.1 1412.1 1370.2 1414.1 1370.3C1416.1 1370.4 1418.1 1370.5 1420.1 1370.6C1422.1 1370.7 1424.0 1370.8 1426.0 1370.9C1428.0 1371.0 1430.0 1371.2 1432.0 1371.3C1434.0 1371.4 1436.0 1371.5 1438.0 1371.6C1440.0 1371.7 1442.0 1371.8 1444.0 1371.9C1446.0 1372.0 1448.0 1372.1 1450.0 1372.2C1452.0 1372.3 1454.0 1372.4 1456.0 1372.5C1458.0 1372.6 1460.0 1372.7 1462.0 1372.8C1464.0 1372.9 1466.0 1373.0 1468.0 1373.1C1470.0 1373.1 1472.0 1373.2 1474.0 1373.3C1476.0 1373.4 1478.0 1373.5 1480.0 1373.6C1482.0 1373.7 1484.0 1373.8 1486.0 1373.9C1488.0 1374.0 1490.0 1374.0 1492.0 1374.1C1494.0 1374.2 1496.0 1374.3 1498.0 1374.4C1500.0 1374.5 1501.9 1374.6 1503.9 1374.6C1505.9 1374.7 1507.9 1374.8 1509.9 1374.9C1511.9 1375.0 1513.9 1375.0 1515.9 1375.1C1517.9 1375.2 1519.9 1375.3 1521.9 1375.3C1523.9 1375.4 1525.9 1375.5 1527.9 1375.6C1529.9 1375.7 1531.9 1375.7 1533.9 1375.8C1535.9 1375.9 1537.9 1375.9 1539.9 1376.0C1541.9 1376.1 1543.9 1376.2 1545.9 1376.2C1547.9 1376.3 1549.9 1376.4 1551.9 1376.4C1553.9 1376.5 1555.9 1376.6 1557.9 1376.6C1559.9 1376.7 1561.9 1376.8 1563.9 1376.8C1565.9 1376.9 1567.9 1377.0 1569.9 1377.0C1571.9 1377.1 1573.9 1377.2 1575.9 1377.2C1577.9 1377.3 1579.9 1377.3 1581.9 1377.4C1583.9 1377.5 1585.9 1377.5 1587.9 1377.6C1589.9 1377.6 1591.9 1377.7 1593.9 1377.7C1595.9 1377.8 1597.9 1377.9 1599.9 1377.9C1601.9 1378.0 1603.9 1378.0 1605.9 1378.1C1607.9 1378.1 1609.9 1378.2 1611.9 1378.2C1613.9 1378.3 1615.9 1378.3 1617.9 1378.4C1619.9 1378.4 1621.9 1378.5 1623.9 1378.5C1625.9 1378.6 1627.9 1378.6 1629.9 1378.7C1631.9 1378.7 1633.9 1378.8 1635.9 1378.8C1637.9 1378.9 1639.9 1378.9 1641.9 1379.0C1643.9 1379.0 1645.9 1379.0 1647.9 1379.1C1649.9 1379.1 1651.9 1379.2 1653.9 1379.2C1655.9 1379.3 1657.9 1379.3 1659.9 1379.3C1661.9 1379.4 1663.9 1379.4 1665.9 1379.5C1667.9 1379.5 1669.9 1379.5 1671.9 1379.6C1673.9 1379.6 1675.9 1379.7 1677.9 1379.7C1679.9 1379.7 1681.9 1379.8 1683.9 1379.8C1685.9 1379.8 1687.9 1379.9 1689.9 1379.9C1691.9 1379.9 1693.9 1380.0 1695.9 1380.0C1697.9 1380.0 1699.9 1380.1 1701.9 1380.1C1703.9 1380.1 1705.9 1380.2 1707.9 1380.2C1709.9 1380.2 1711.9 1380.2 1713.9 1380.3C1715.9 1380.3 1717.9 1380.3 1719.9 1380.4C1721.9 1380.4 1723.9 1380.4 1725.9 1380.4C1727.9 1380.5 1729.9 1380.5 1731.9 1380.5C1733.9 1380.5 1735.9 1380.6 1737.9 1380.6C1739.9 1380.6 1741.9 1380.6 1743.9 1380.7C1745.9 1380.7 1747.9 1380.7 1749.9 1380.7C1751.9 1380.8 1753.9 1380.8 1755.9 1380.8C1757.9 1380.8 1759.9 1380.8 1761.9 1380.8C1763.9 1380.8 1765.9 1380.8 1767.9 1380.8C1769.9 1380.8 1771.9 1380.8 1773.9 1380.8C1775.9 1380.8 1777.9 1380.8 1779.9 1380.8C1781.9 1380.8 1783.9 1380.8 1785.9 1380.8C1787.9 1380.8 1789.9 1380.8 1791.9 1380.8C1793.9 1380.8 1795.9 1380.8 1797.9 1380.8C1799.9 1380.8 1801.9 1380.8 1803.9 1380.8C1805.9 1380.8 1807.9 1380.8 1809.9 1380.8C1811.9 1380.8 1813.9 1380.8 1815.9 1380.8C1817.9 1380.8 1819.9 1380.8 1821.9 1380.8C1823.9 1380.8 1825.9 1380.8 1827.9 1380.8C1829.9 1380.8 1831.9 1380.8 1833.9 1380.8C1835.9 1380.8 1837.9 1380.8 1839.9 1380.8C1841.9 1380.8 1843.9 1380.8 1845.9 1380.8C1847.9 1380.8 1849.9 1380.8 1851.9 1380.8C1853.9 1380.8 1855.9 1380.8 1857.9 1380.8C1859.9 1380.8 1861.9 1380.8 1863.9 1380.8C1865.9 1380.8 1867.9 1380.8 1869.9 1380.8C1871.9 1380.8 1873.9 1380.8 1875.9 1380.8C1877.9 1380.8 1879.9 1380.8 1881.9 1380.8C1883.9 1380.8 1885.9 1380.8 1887.9 1380.8C1889.9 1380.8 1891.9 1380.8 1894.0 1380.8C1896.0 1380.8 1898.0 1380.8 1900.0 1380.8C1902.0 1380.8 1904.0 1380.8 1906.0 1380.8C1908.0 1380.8 1910.0 1380.8 1912.0 1380.8C1914.0 1380.8 1916.0 1380.8 1918.0 1380.8C1920.0 1380.8 1922.0 1380.8 1924.0 1380.8C1926.0 1380.8 1928.0 1380.8 1930.0 1380.8C1932.0 1380.8 1934.0 1380.8 1936.0 1380.8C1938.0 1380.8 1940.0 1380.8 1942.0 1380.8C1944.0 1380.8 1946.0 1380.8 1948.0 1380.8C1950.0 1380.8 1952.0 1380.8 1954.0 1380.8C1956.0 1380.8 1958.0 1380.8 1960.0 1380.8C1962.0 1380.8 1964.0 1380.8 1966.0 1380.8C1968.0 1380.8 1970.0 1380.8 1972.0 1380.8C1974.0 1380.8 1976.0 1380.8 1978.0 1380.8C1980.0 1380.8 1982.0 1380.8 1984.0 1380.8C1986.0 1380.8 1988.0 1380.8 1990.0 1380.8C1992.0 1380.8 1994.0 1380.8 1996.0 1380.8C1998.0 1380.8 2000.0 1380.8 2002.0 1380.8C2004.0 1380.8 2006.0 1380.8 2008.0 1380.8C2010.0 1380.8 2012.0 1380.8 2014.0 1380.8C2016.0 1380.8 2018.0 1380.8 2020.0 1380.8C2022.0 1380.8 2024.0 1380.8 2026.0 1380.8C2028.0 1380.8 2030.0 1380.8 2032.0 1380.8C2034.0 1380.8 2036.0 1380.8 2038.0 1380.8C2040.0 1380.8 2042.0 1380.8 2044.0 1380.8C2046.0 1380.8 2048.0 1380.8 2050.0 1380.8C2052.0 1380.8 2054.0 1380.8 2056.0 1380.8C2058.0 1380.8 2060.0 1380.8 2062.0 1380.8C2064.0 1380.8 2066.0 1380.8 2068.0 1380.8C2070.0 1380.8 2072.0 1380.8 2074.0 1380.8C2076.0 1380.8 2078.0 1380.8 2080.0 1380.8C2082.0 1380.8 2084.0 1380.8 2086.0 1380.8C2088.0 1380.8 2091.0 1380.8 2092.0 1380.8" fill="none" stroke="#F03C41" stroke-width="11.5" stroke-linejoin="round" stroke-linecap="square"/>
<path d="M240.5 682.0C240.6 681.0 240.7 678.0 240.8 676.0C240.9 674.0 241.0 672.0 241.1 670.0C241.2 668.0 241.3 666.0 241.4 664.0C241.5 662.0 241.5 660.0 241.6 658.0C241.7 656.0 241.8 654.0 241.9 652.0C242.0 650.0 242.0 648.0 242.1 646.0C242.2 644.1 242.3 642.1 242.4 640.1C242.4 638.1 242.5 636.1 242.6 634.1C242.7 632.0 242.7 630.0 242.8 628.0C242.9 626.0 242.9 624.0 243.0 622.0C243.1 620.0 243.2 618.0 243.2 616.0C243.3 614.0 243.3 612.0 243.4 610.0C243.5 608.0 243.5 606.0 243.6 604.0C243.7 602.0 243.7 600.0 243.8 598.0C243.8 596.0 243.9 594.0 244.0 592.0C244.0 590.0 244.1 588.0 244.1 586.0C244.2 584.0 244.3 582.0 244.3 580.0C244.4 578.0 244.4 576.0 244.5 574.0C244.5 572.0 244.6 570.0 244.6 567.9C244.7 565.9 244.8 563.9 244.8 561.9C244.9 559.9 244.9 557.9 245.0 555.9C245.0 553.9 245.1 551.9 245.1 549.9C245.2 547.9 245.2 545.9 245.3 543.9C245.3 541.9 245.4 539.9 245.4 537.9C245.5 535.9 245.6 533.8 245.6 531.8C245.7 529.8 245.7 527.8 245.8 525.8C245.8 523.8 245.9 521.8 245.9 519.8C246.0 517.8 246.0 515.8 246.1 513.8C246.2 511.8 246.2 509.8 246.3 507.8C246.3 505.8 246.4 503.8 246.4 501.7C246.5 499.7 246.6 497.7 246.6 495.7C246.7 493.7 246.7 491.7 246.8 489.7C246.9 487.7 246.9 485.7 247.0 483.7C247.0 481.7 247.1 479.7 247.2 477.7C247.2 475.7 247.3 473.7 247.4 471.7C247.4 469.7 247.5 467.6 247.6 465.6C247.6 463.6 247.7 461.6 247.8 459.6C247.9 457.6 247.9 455.6 248.0 453.6C248.1 451.6 248.2 449.6 248.2 447.6C248.3 445.6 248.4 443.6 248.5 441.6C248.6 439.6 248.6 437.6 248.7 435.6C248.8 433.6 248.9 431.6 249.0 429.6C249.1 427.6 249.2 425.6 249.2 423.6C249.3 421.6 249.4 419.5 249.5 417.5C249.6 415.5 249.7 413.5 249.8 411.5C249.9 409.5 250.0 407.5 250.1 405.5C250.2 403.5 250.3 401.5 250.4 399.5C250.5 397.5 250.7 395.5 250.8 393.5C250.9 391.5 251.0 389.5 251.1 387.5C251.2 385.5 251.3 383.5 251.5 381.5C251.6 379.5 251.7 377.5 251.8 375.5C252.0 373.5 252.1 371.5 252.2 369.5C252.4 367.5 252.5 365.5 252.6 363.5C252.8 361.6 252.9 359.6 253.1 357.6C253.2 355.6 253.4 353.6 253.5 351.6C253.7 349.6 253.8 347.6 254.0 345.6C254.1 343.6 254.3 341.6 254.4 339.6C254.6 337.6 254.8 335.6 254.9 333.6C255.1 331.6 255.3 329.6 255.5 327.6C255.6 325.7 255.8 323.7 256.0 321.7C256.2 319.7 256.4 317.7 256.6 315.7C256.8 313.7 256.9 311.7 257.1 309.7C257.3 307.7 257.5 305.8 257.7 303.8C257.9 301.8 258.2 299.8 258.4 297.8C258.6 295.8 258.8 293.8 259.0 291.8C259.2 289.9 259.5 287.9 259.7 285.9C259.9 283.9 260.1 281.9 260.4 279.9C260.6 277.9 260.9 276.0 261.1 274.0C261.4 272.0 261.6 270.0 261.9 268.0C262.1 266.1 262.4 264.1 262.6 262.1C262.9 260.1 263.2 258.1 263.4 256.2C263.7 254.2 264.0 252.2 264.3 250.2C264.5 248.2 264.8 246.3 265.1 244.3C265.4 242.3 265.7 240.3 266.0 238.4C266.3 236.4 266.6 234.4 266.9 232.4C267.2 230.5 267.5 228.5 267.8 226.5C268.2 224.6 268.5 222.6 268.8 220.6C269.1 218.6 269.5 216.7 269.8 214.7C270.2 212.7 270.5 210.8 270.8 208.8C271.2 206.8 271.5 204.9 271.9 202.9C272.3 200.9 272.6 199.0 273.0 197.0C273.4 195.0 273.8 193.1 274.1 191.1C274.5 189.1 274.9 187.2 275.3 185.2C275.7 183.3 276.1 181.3 276.5 179.3C276.9 177.4 277.3 175.4 277.7 173.5C278.1 171.5 278.6 169.5 279.0 167.6C279.4 165.6 279.8 163.7 280.3 161.7C280.7 159.8 281.2 157.8 281.6 155.9C282.1 153.9 282.8 151.0 283.0 150.0C283.7 150.7 286.0 152.6 287.2 154.1C288.3 155.7 289.1 157.5 289.7 159.5C290.4 161.4 290.8 163.5 291.1 165.6C291.5 167.8 291.6 170.1 291.8 172.4C291.9 174.7 292.0 177.1 292.1 179.4C292.2 181.7 292.2 184.1 292.4 186.4C292.6 188.6 292.9 190.9 293.3 193.0C293.7 195.1 294.7 198.0 295.0 199.0C295.5 196.7 297.5 187.3 298.0 185.0C298.1 186.0 298.5 189.0 298.8 191.0C299.0 193.0 299.3 195.0 299.5 197.0C299.8 199.0 300.0 201.0 300.3 203.0C300.5 205.0 300.7 207.0 301.0 209.0C301.2 211.0 301.5 213.0 301.7 215.0C301.9 217.0 302.1 219.0 302.4 221.0C302.6 223.0 302.8 225.0 303.0 227.0C303.2 229.0 303.5 231.0 303.7 233.0C303.9 235.0 304.1 237.0 304.3 239.0C304.5 241.0 304.7 243.0 304.9 245.0C305.1 246.9 305.3 248.9 305.5 250.9C305.7 252.9 305.9 254.9 306.1 256.9C306.3 258.9 306.5 260.9 306.7 262.9C306.9 264.9 307.1 266.9 307.2 268.9C307.4 270.9 307.6 272.9 307.8 274.9C308.0 276.9 308.1 278.9 308.3 280.9C308.5 282.9 308.7 284.9 308.8 286.9C309.0 288.9 309.2 290.9 309.4 292.9C309.5 294.9 309.7 296.9 309.9 298.9C310.0 300.9 310.2 302.9 310.3 304.9C310.5 306.9 310.7 308.9 310.8 310.9C311.0 312.9 311.1 314.9 311.3 316.9C311.5 318.9 311.6 320.9 311.8 322.9C311.9 324.9 312.1 326.9 312.2 328.9C312.4 330.9 312.5 332.9 312.7 334.9C312.8 336.9 313.0 338.9 313.1 340.9C313.3 342.9 313.4 344.9 313.5 346.9C313.7 348.9 313.8 350.9 314.0 352.9C314.1 354.9 314.3 356.9 314.4 358.9C314.5 360.9 314.7 362.9 314.8 364.9C315.0 366.9 315.1 368.9 315.2 370.9C315.4 372.9 315.5 374.9 315.6 376.9C315.8 378.9 315.9 380.9 316.1 382.9C316.2 384.9 316.3 386.9 316.5 388.9C316.6 390.9 316.7 392.9 316.9 394.9C317.0 396.9 317.1 398.9 317.3 400.9C317.4 402.9 317.5 404.9 317.7 406.9C317.8 408.9 317.9 410.9 318.1 412.9C318.2 414.9 318.4 416.9 318.5 418.9C318.6 420.9 318.8 422.9 318.9 424.9C319.0 426.9 319.2 428.9 319.3 430.9C319.4 432.9 319.6 434.9 319.7 436.9C319.8 438.9 320.0 440.9 320.1 442.9C320.3 444.9 320.4 446.9 320.5 449.0C320.7 451.0 320.8 453.0 321.0 455.0C321.1 457.0 321.2 459.0 321.4 461.0C321.5 463.0 321.7 465.0 321.8 467.0C321.9 469.0 322.1 471.0 322.2 473.0C322.4 475.0 322.5 477.0 322.7 479.0C322.8 481.1 323.0 483.1 323.1 485.1C323.3 487.1 323.4 489.1 323.6 491.1C323.7 493.1 323.9 495.1 324.0 497.1C324.2 499.1 324.3 501.1 324.5 503.1C324.6 505.2 324.8 507.2 325.0 509.2C325.1 511.2 325.3 513.2 325.5 515.2C325.6 517.2 325.8 519.2 325.9 521.2C326.1 523.3 326.3 525.3 326.4 527.3C326.6 529.3 326.8 531.3 327.0 533.3C327.1 535.3 327.3 537.3 327.5 539.4C327.7 541.4 327.8 543.4 328.0 545.4C328.2 547.4 328.4 549.4 328.6 551.4C328.7 553.4 328.9 555.4 329.1 557.5C329.3 559.5 329.5 561.5 329.7 563.5C329.9 565.5 330.1 567.5 330.2 569.5C330.4 571.5 330.6 573.5 330.8 575.5C331.0 577.6 331.2 579.6 331.4 581.6C331.6 583.6 331.8 585.6 332.0 587.6C332.2 589.6 332.4 591.6 332.6 593.6C332.8 595.6 333.0 597.6 333.2 599.6C333.4 601.6 333.6 603.6 333.9 605.6C334.1 607.6 334.3 609.6 334.5 611.6C334.7 613.6 334.9 615.6 335.1 617.6C335.3 619.6 335.6 621.6 335.8 623.6C336.0 625.6 336.2 627.6 336.4 629.6C336.7 631.6 336.9 633.6 337.1 635.5C337.3 637.5 337.6 639.5 337.8 641.5C338.0 643.5 338.2 645.5 338.5 647.5C338.7 649.4 338.9 651.4 339.2 653.4C339.4 655.4 339.6 657.4 339.9 659.3C340.1 661.3 340.3 663.3 340.6 665.2C340.8 667.2 341.1 669.2 341.3 671.2C341.5 673.1 341.8 675.1 342.0 677.1C342.3 679.0 342.5 681.0 342.8 682.9C343.0 684.9 343.3 686.8 343.5 688.8C343.8 690.8 344.0 692.7 344.3 694.7C344.5 696.6 344.8 698.6 345.0 700.5C345.3 702.4 345.5 704.4 345.8 706.3C346.0 708.3 346.3 710.2 346.6 712.2C346.9 714.1 347.1 716.1 347.4 718.0C347.7 720.0 348.0 721.9 348.3 723.9C348.6 725.8 348.9 727.8 349.3 729.8C349.6 731.7 349.9 733.7 350.3 735.7C350.7 737.7 351.0 739.7 351.4 741.7C351.8 743.7 352.2 745.8 352.7 747.8C353.1 749.9 353.6 751.9 354.0 754.0C354.5 756.1 355.0 758.1 355.5 760.2C356.1 762.3 356.6 764.5 357.2 766.6C357.8 768.8 358.4 770.9 359.0 773.1C359.6 775.3 360.3 777.5 361.0 779.7C361.7 781.8 362.5 784.0 363.2 786.0C364.0 788.1 364.8 790.1 365.7 791.9C366.6 793.8 367.5 795.5 368.5 797.1C369.4 798.7 370.4 800.1 371.5 801.3C372.6 802.5 373.7 803.5 374.9 804.2C376.1 805.0 377.4 805.5 378.7 805.6C379.9 805.8 381.3 805.8 382.5 805.4C383.7 805.0 385.0 804.3 386.1 803.4C387.2 802.5 388.3 801.2 389.3 799.8C390.4 798.4 391.3 796.8 392.3 795.0C393.2 793.2 394.1 791.3 394.9 789.3C395.7 787.3 396.5 785.1 397.3 782.9C398.1 780.8 398.8 778.5 399.5 776.3C400.2 774.1 400.8 771.9 401.4 769.7C402.1 767.6 402.7 765.5 403.2 763.4C403.8 761.3 404.4 759.3 404.9 757.3C405.4 755.3 405.9 753.4 406.4 751.4C406.9 749.5 407.4 747.6 407.9 745.7C408.4 743.8 408.8 741.9 409.3 740.0C409.7 738.1 410.1 736.3 410.6 734.4C411.0 732.5 411.4 730.6 411.9 728.7C412.3 726.8 412.7 724.9 413.1 723.0C413.5 721.1 414.0 719.2 414.4 717.2C414.8 715.3 415.2 713.4 415.6 711.4C416.0 709.5 416.4 707.6 416.8 705.6C417.2 703.7 417.6 701.7 418.0 699.7C418.4 697.8 418.8 695.8 419.2 693.9C419.6 691.9 420.0 689.9 420.4 687.9C420.8 686.0 421.1 684.0 421.5 682.0C421.9 680.0 422.3 678.0 422.7 676.1C423.0 674.1 423.4 672.1 423.8 670.1C424.1 668.1 424.5 666.1 424.9 664.1C425.2 662.1 425.6 660.1 426.0 658.1C426.3 656.1 426.7 654.2 427.0 652.2C427.4 650.2 427.8 648.2 428.1 646.2C428.5 644.2 428.8 642.2 429.2 640.2C429.5 638.2 429.9 636.2 430.2 634.2C430.5 632.2 430.9 630.3 431.2 628.3C431.6 626.3 431.9 624.3 432.2 622.3C432.6 620.3 432.9 618.3 433.2 616.3C433.6 614.4 433.9 612.4 434.2 610.4C434.6 608.4 434.9 606.4 435.2 604.4C435.5 602.4 435.9 600.5 436.2 598.5C436.5 596.5 436.8 594.5 437.1 592.5C437.5 590.5 437.8 588.6 438.1 586.6C438.4 584.6 438.7 582.6 439.0 580.6C439.3 578.6 439.6 576.7 439.9 574.7C440.2 572.7 440.5 570.7 440.8 568.7C441.1 566.7 441.4 564.8 441.7 562.8C442.0 560.8 442.3 558.8 442.6 556.8C442.9 554.8 443.2 552.9 443.5 550.9C443.8 548.9 444.1 546.9 444.4 544.9C444.7 542.9 445.0 541.0 445.2 539.0C445.5 537.0 445.8 535.0 446.1 533.0C446.4 531.0 446.6 529.1 446.9 527.1C447.2 525.1 447.5 523.1 447.7 521.1C448.0 519.1 448.3 517.1 448.6 515.2C448.8 513.2 449.1 511.2 449.4 509.2C449.6 507.2 449.9 505.2 450.2 503.2C450.4 501.3 450.7 499.3 451.0 497.3C451.2 495.3 451.5 493.3 451.7 491.3C452.0 489.3 452.3 487.3 452.5 485.3C452.8 483.3 453.0 481.4 453.3 479.4C453.5 477.4 453.8 475.4 454.0 473.4C454.3 471.4 454.5 469.4 454.8 467.4C455.0 465.4 455.3 463.4 455.5 461.4C455.8 459.4 456.0 457.4 456.3 455.4C456.5 453.4 456.8 451.4 457.0 449.4C457.3 447.5 457.5 445.5 457.7 443.5C458.0 441.5 458.2 439.5 458.5 437.5C458.7 435.5 459.0 433.5 459.2 431.5C459.5 429.5 459.7 427.5 460.0 425.5C460.2 423.5 460.5 421.5 460.7 419.5C461.0 417.5 461.2 415.5 461.5 413.5C461.7 411.5 462.0 409.5 462.2 407.5C462.5 405.5 462.8 403.5 463.0 401.5C463.3 399.5 463.6 397.6 463.8 395.6C464.1 393.6 464.3 391.6 464.6 389.6C464.9 387.6 465.2 385.6 465.4 383.6C465.7 381.6 466.0 379.6 466.3 377.6C466.5 375.6 466.8 373.6 467.1 371.7C467.4 369.7 467.7 367.7 468.0 365.7C468.3 363.7 468.6 361.7 468.9 359.7C469.2 357.7 469.5 355.7 469.8 353.8C470.1 351.8 470.4 349.8 470.7 347.8C471.0 345.8 471.4 343.8 471.7 341.9C472.0 339.9 472.3 337.9 472.7 335.9C473.0 333.9 473.3 332.0 473.7 330.0C474.0 328.0 474.4 326.0 474.7 324.0C475.1 322.1 475.4 320.1 475.8 318.1C476.2 316.2 476.5 314.2 476.9 312.2C477.3 310.2 477.7 308.3 478.0 306.3C478.4 304.3 478.8 302.4 479.2 300.4C479.6 298.4 480.0 296.5 480.4 294.5C480.8 292.5 481.2 290.6 481.6 288.6C482.0 286.7 482.4 284.7 482.8 282.7C483.2 280.8 483.6 278.8 484.0 276.8C484.4 274.9 484.8 272.9 485.2 271.0C485.6 269.0 486.0 267.0 486.4 265.1C486.8 263.1 487.2 261.2 487.6 259.2C488.0 257.3 488.4 255.3 488.8 253.3C489.2 251.4 489.6 249.4 489.9 247.5C490.3 245.5 490.7 243.5 491.1 241.6C491.5 239.6 491.8 237.7 492.2 235.7C492.6 233.7 492.9 231.8 493.3 229.8C493.6 227.9 494.0 225.9 494.3 223.9C494.7 222.0 495.0 220.0 495.3 218.0C495.6 216.1 496.0 214.1 496.3 212.1C496.6 210.2 496.9 208.2 497.2 206.2C497.5 204.3 497.7 202.3 498.0 200.3C498.3 198.4 498.5 196.4 498.8 194.4C499.0 192.4 499.4 189.5 499.5 188.5C499.8 188.9 500.9 190.2 501.5 191.1C502.1 192.0 502.5 192.9 502.9 193.9C503.4 194.8 503.7 195.9 504.0 196.9C504.3 197.9 504.5 198.9 504.8 200.0C505.0 201.0 505.2 202.1 505.5 203.1C505.8 204.1 506.0 205.2 506.3 206.2C506.7 207.2 507.0 208.2 507.5 209.2C507.9 210.1 508.7 211.5 509.0 212.0C509.7 211.2 511.7 209.3 513.0 207.0C514.3 204.7 516.3 199.5 517.0 198.0C517.3 198.7 518.5 200.7 519.1 202.1C519.6 203.6 520.0 205.0 520.4 206.5C520.7 208.0 520.9 209.5 521.1 211.0C521.4 212.5 521.5 214.1 521.7 215.6C521.9 217.1 522.0 218.7 522.3 220.2C522.5 221.7 522.8 223.2 523.2 224.6C523.6 226.1 524.0 227.6 524.6 229.0C525.3 230.3 526.6 232.3 527.0 233.0C527.4 233.9 528.7 236.5 529.5 238.3C530.4 240.1 531.2 241.9 531.9 243.7C532.7 245.4 533.5 247.3 534.2 249.1C534.9 250.9 535.6 252.7 536.3 254.6C537.0 256.4 537.6 258.2 538.3 260.1C538.9 262.0 539.5 263.8 540.1 265.7C540.7 267.6 541.3 269.4 541.8 271.3C542.4 273.2 542.9 275.1 543.5 277.0C544.0 278.9 544.5 280.8 545.0 282.8C545.5 284.7 545.9 286.6 546.4 288.5C546.8 290.5 547.3 292.4 547.7 294.3C548.1 296.3 548.5 298.2 548.9 300.2C549.3 302.1 549.7 304.1 550.1 306.1C550.5 308.0 550.8 310.0 551.2 312.0C551.5 313.9 551.9 315.9 552.2 317.9C552.5 319.9 552.8 321.9 553.1 323.9C553.4 325.8 553.7 327.8 554.0 329.8C554.3 331.8 554.6 333.8 554.9 335.8C555.1 337.8 555.4 339.8 555.7 341.8C555.9 343.8 556.2 345.8 556.4 347.8C556.7 349.8 556.9 351.8 557.1 353.8C557.4 355.8 557.6 357.8 557.9 359.8C558.1 361.8 558.3 363.8 558.5 365.8C558.8 367.8 559.0 369.8 559.2 371.8C559.4 373.8 559.7 375.8 559.9 377.8C560.1 379.8 560.3 381.8 560.5 383.8C560.8 385.8 561.0 387.8 561.2 389.8C561.4 391.8 561.6 393.8 561.8 395.8C562.0 397.8 562.2 399.8 562.5 401.8C562.7 403.8 562.9 405.8 563.1 407.8C563.3 409.8 563.5 411.8 563.7 413.7C563.9 415.7 564.1 417.7 564.3 419.7C564.5 421.7 564.7 423.7 564.9 425.7C565.1 427.7 565.3 429.7 565.5 431.7C565.7 433.6 565.9 435.6 566.1 437.6C566.3 439.6 566.5 441.6 566.7 443.6C566.9 445.6 567.1 447.6 567.3 449.5C567.5 451.5 567.7 453.5 567.9 455.5C568.0 457.5 568.2 459.5 568.4 461.5C568.6 463.5 568.8 465.4 569.0 467.4C569.2 469.4 569.4 471.4 569.6 473.4C569.8 475.4 570.0 477.4 570.1 479.3C570.3 481.3 570.5 483.3 570.7 485.3C570.9 487.3 571.1 489.3 571.3 491.3C571.5 493.2 571.7 495.2 571.9 497.2C572.0 499.2 572.2 501.2 572.4 503.2C572.6 505.2 572.8 507.1 573.0 509.1C573.2 511.1 573.4 513.1 573.6 515.1C573.8 517.1 573.9 519.1 574.1 521.1C574.3 523.1 574.5 525.0 574.7 527.0C574.9 529.0 575.1 531.0 575.3 533.0C575.5 535.0 575.7 537.0 575.9 539.0C576.1 541.0 576.3 542.9 576.4 544.9C576.6 546.9 576.8 548.9 577.0 550.9C577.2 552.9 577.4 554.9 577.6 556.9C577.8 558.9 578.0 560.9 578.2 562.9C578.4 564.8 578.6 566.8 578.8 568.8C579.0 570.8 579.2 572.8 579.4 574.8C579.6 576.8 579.8 578.8 580.0 580.8C580.2 582.8 580.4 584.8 580.6 586.8C580.8 588.8 581.0 590.8 581.2 592.7C581.4 594.7 581.6 596.7 581.8 598.7C582.0 600.7 582.2 602.7 582.4 604.7C582.6 606.7 582.8 608.7 583.0 610.7C583.2 612.7 583.4 614.7 583.6 616.7C583.8 618.7 584.0 620.7 584.2 622.7C584.4 624.6 584.6 626.6 584.8 628.6C585.0 630.6 585.2 632.6 585.4 634.6C585.6 636.6 585.8 638.6 586.0 640.6C586.2 642.6 586.4 644.6 586.6 646.6C586.8 648.6 587.0 650.6 587.2 652.6C587.4 654.6 587.6 656.6 587.8 658.6C588.0 660.6 588.2 662.6 588.4 664.5C588.6 666.5 588.8 668.5 589.0 670.5C589.2 672.5 589.5 674.5 589.7 676.5C589.9 678.5 590.1 680.5 590.3 682.5C590.5 684.5 590.7 686.5 590.9 688.5C591.1 690.5 591.3 692.5 591.5 694.5C591.7 696.5 591.9 698.5 592.1 700.5C592.4 702.5 592.6 704.4 592.8 706.4C593.0 708.4 593.2 710.4 593.4 712.4C593.6 714.4 593.8 716.4 594.0 718.4C594.2 720.4 594.4 722.4 594.7 724.4C594.9 726.4 595.1 728.4 595.3 730.4C595.5 732.4 595.7 734.4 595.9 736.4C596.1 738.3 596.3 740.3 596.6 742.3C596.8 744.3 597.0 746.3 597.2 748.3C597.4 750.3 597.6 752.3 597.8 754.3C598.0 756.3 598.3 758.3 598.5 760.3C598.7 762.3 598.9 764.2 599.1 766.2C599.3 768.2 599.5 770.2 599.7 772.2C600.0 774.2 600.2 776.2 600.4 778.2C600.6 780.2 600.8 782.2 601.0 784.2C601.2 786.1 601.5 788.1 601.7 790.1C601.9 792.1 602.1 794.1 602.3 796.1C602.5 798.1 602.7 800.1 603.0 802.1C603.2 804.0 603.4 806.0 603.6 808.0C603.8 810.0 604.0 812.0 604.3 814.0C604.5 816.0 604.7 818.0 604.9 820.0C605.1 821.9 605.4 823.9 605.6 825.9C605.8 827.9 606.0 829.9 606.2 831.9C606.5 833.9 606.7 835.8 606.9 837.8C607.1 839.8 607.4 841.8 607.6 843.8C607.8 845.8 608.0 847.7 608.3 849.7C608.5 851.7 608.7 853.7 609.0 855.7C609.2 857.7 609.4 859.6 609.7 861.6C609.9 863.6 610.1 865.6 610.4 867.6C610.6 869.5 610.9 871.5 611.1 873.5C611.4 875.5 611.6 877.5 611.9 879.4C612.1 881.4 612.4 883.4 612.6 885.4C612.9 887.4 613.1 889.3 613.4 891.3C613.6 893.3 613.9 895.3 614.2 897.3C614.4 899.2 614.7 901.2 615.0 903.2C615.3 905.2 615.5 907.1 615.8 909.1C616.1 911.1 616.4 913.1 616.6 915.0C616.9 917.0 617.2 919.0 617.5 920.9C617.8 922.9 618.1 924.9 618.4 926.9C618.7 928.8 619.0 930.8 619.3 932.8C619.6 934.7 619.9 936.7 620.2 938.7C620.5 940.7 620.9 942.6 621.2 944.6C621.5 946.6 621.8 948.5 622.2 950.5C622.5 952.5 622.8 954.4 623.2 956.4C623.5 958.4 623.9 960.3 624.2 962.3C624.6 964.3 624.9 966.2 625.3 968.2C625.6 970.1 626.0 972.1 626.4 974.1C626.7 976.0 627.1 978.0 627.5 980.0C627.9 981.9 628.2 983.9 628.6 985.8C629.0 987.8 629.4 989.8 629.8 991.7C630.2 993.7 630.6 995.6 631.0 997.6C631.4 999.5 631.9 1001.5 632.3 1003.5C632.7 1005.4 633.1 1007.4 633.6 1009.3C634.0 1011.3 634.4 1013.2 634.9 1015.2C635.3 1017.1 635.8 1019.1 636.2 1021.0C636.7 1023.0 637.2 1024.9 637.6 1026.9C638.1 1028.8 638.6 1030.8 639.1 1032.7C639.6 1034.7 640.1 1036.6 640.6 1038.6C641.1 1040.5 641.6 1042.5 642.1 1044.4C642.6 1046.4 643.1 1048.3 643.6 1050.3C644.2 1052.2 644.7 1054.1 645.2 1056.1C645.8 1058.0 646.3 1060.0 646.9 1061.9C647.4 1063.8 648.0 1065.8 648.6 1067.7C649.1 1069.7 649.7 1071.6 650.3 1073.5C650.9 1075.5 651.5 1077.4 652.1 1079.4C652.7 1081.3 653.3 1083.2 653.9 1085.2C654.5 1087.1 655.2 1089.0 655.8 1091.0C656.4 1092.9 657.1 1094.8 657.7 1096.7C658.4 1098.7 659.1 1100.6 659.7 1102.5C660.4 1104.5 661.1 1106.4 661.8 1108.3C662.4 1110.2 663.1 1112.2 663.9 1114.1C664.6 1116.0 665.3 1117.9 666.0 1119.8C666.8 1121.7 667.5 1123.6 668.3 1125.5C669.1 1127.4 669.9 1129.2 670.7 1131.1C671.5 1133.0 672.3 1134.8 673.2 1136.6C674.0 1138.5 674.9 1140.3 675.8 1142.1C676.7 1143.9 677.6 1145.7 678.5 1147.4C679.5 1149.2 680.4 1150.9 681.4 1152.6C682.4 1154.3 683.4 1156.0 684.5 1157.7C685.6 1159.4 686.6 1161.0 687.8 1162.6C688.9 1164.2 690.0 1165.8 691.2 1167.4C692.4 1168.9 693.6 1170.4 694.9 1171.9C696.1 1173.4 697.4 1174.9 698.7 1176.3C700.1 1177.7 701.4 1179.1 702.8 1180.4C704.3 1181.8 705.7 1183.1 707.2 1184.3C708.7 1185.6 710.2 1186.8 711.8 1188.0C713.3 1189.2 714.9 1190.3 716.5 1191.4C718.2 1192.5 719.8 1193.5 721.5 1194.5C723.2 1195.5 724.9 1196.5 726.7 1197.4C728.4 1198.2 730.2 1199.1 732.0 1199.9C733.8 1200.6 735.6 1201.4 737.5 1202.0C739.3 1202.7 741.2 1203.3 743.1 1203.9C745.0 1204.4 746.9 1204.9 748.8 1205.3C750.7 1205.7 752.7 1206.1 754.6 1206.4C756.6 1206.7 758.6 1206.9 760.6 1207.1C762.6 1207.2 764.6 1207.3 766.6 1207.4C768.6 1207.5 770.6 1207.5 772.7 1207.5C774.7 1207.5 776.7 1207.5 778.8 1207.5C780.8 1207.4 782.9 1207.3 784.9 1207.3C787.0 1207.2 789.0 1207.1 791.1 1207.0C793.1 1206.9 795.2 1206.8 797.2 1206.8C799.2 1206.7 801.3 1206.7 803.3 1206.6C805.3 1206.6 807.3 1206.6 809.4 1206.6C811.4 1206.7 813.4 1206.7 815.3 1206.8C817.3 1206.9 819.3 1207.1 821.3 1207.3C823.2 1207.5 825.1 1207.8 827.1 1208.1C829.0 1208.4 830.9 1208.8 832.8 1209.3C834.7 1209.7 836.5 1210.2 838.4 1210.7C840.2 1211.3 842.0 1211.9 843.8 1212.5C845.7 1213.1 847.4 1213.8 849.2 1214.6C851.0 1215.3 852.7 1216.1 854.5 1216.9C856.2 1217.8 857.9 1218.6 859.6 1219.6C861.2 1220.5 862.9 1221.5 864.5 1222.5C866.2 1223.5 867.8 1224.6 869.4 1225.7C871.0 1226.8 872.5 1227.9 874.1 1229.1C875.6 1230.3 877.1 1231.5 878.6 1232.8C880.1 1234.1 881.6 1235.4 883.1 1236.7C884.5 1238.1 885.9 1239.4 887.3 1240.8C888.8 1242.2 890.2 1243.7 891.5 1245.1C892.9 1246.6 894.3 1248.1 895.6 1249.6C896.9 1251.1 898.3 1252.7 899.6 1254.3C900.9 1255.8 902.2 1257.4 903.5 1259.0C904.8 1260.6 906.0 1262.3 907.3 1263.9C908.6 1265.5 909.8 1267.2 911.1 1268.9C912.3 1270.5 913.5 1272.2 914.8 1273.9C916.0 1275.6 917.2 1277.3 918.4 1279.0C919.6 1280.7 920.8 1282.4 922.0 1284.2C923.2 1285.9 924.4 1287.6 925.6 1289.3C926.8 1291.0 928.0 1292.8 929.2 1294.5C930.4 1296.2 931.6 1297.9 932.8 1299.6C934.0 1301.3 935.2 1303.0 936.4 1304.7C937.6 1306.4 938.8 1308.1 940.0 1309.7C941.3 1311.3 942.5 1313.0 943.7 1314.5C945.0 1316.1 946.3 1317.7 947.6 1319.2C948.8 1320.7 950.1 1322.2 951.5 1323.7C952.8 1325.1 954.1 1326.5 955.5 1327.9C956.9 1329.2 958.3 1330.5 959.8 1331.8C961.2 1333.0 962.7 1334.2 964.2 1335.3C965.7 1336.4 967.2 1337.5 968.8 1338.5C970.4 1339.5 972.0 1340.4 973.7 1341.3C975.3 1342.2 977.0 1343.0 978.7 1343.7C980.4 1344.5 982.2 1345.2 983.9 1345.8C985.7 1346.5 987.5 1347.1 989.3 1347.6C991.1 1348.2 993.0 1348.7 994.8 1349.1C996.7 1349.6 998.6 1350.0 1000.5 1350.4C1002.4 1350.8 1004.3 1351.1 1006.2 1351.4C1008.1 1351.7 1010.1 1351.9 1012.0 1352.2C1014.0 1352.4 1016.0 1352.6 1018.0 1352.8C1019.9 1352.9 1021.9 1353.1 1023.9 1353.2C1025.9 1353.3 1027.9 1353.4 1029.9 1353.4C1031.9 1353.5 1033.9 1353.5 1035.9 1353.6C1037.9 1353.6 1040.0 1353.6 1042.0 1353.6C1044.0 1353.6 1046.0 1353.6 1048.0 1353.5C1050.0 1353.5 1052.0 1353.4 1054.0 1353.4C1056.0 1353.3 1058.0 1353.2 1060.1 1353.2C1062.1 1353.1 1064.1 1353.0 1066.1 1352.9C1068.1 1352.8 1070.1 1352.7 1072.1 1352.5C1074.1 1352.4 1076.1 1352.3 1078.2 1352.2C1080.2 1352.1 1082.2 1351.9 1084.2 1351.8C1086.2 1351.7 1088.2 1351.6 1090.2 1351.4C1092.2 1351.3 1094.2 1351.2 1096.3 1351.0C1098.3 1350.9 1100.3 1350.8 1102.3 1350.7C1104.3 1350.6 1106.3 1350.4 1108.3 1350.3C1110.3 1350.2 1112.3 1350.1 1114.3 1350.0C1116.4 1349.9 1118.4 1349.8 1120.4 1349.7C1122.4 1349.6 1124.4 1349.5 1126.4 1349.5C1128.4 1349.4 1130.4 1349.3 1132.4 1349.2C1134.4 1349.1 1136.4 1349.1 1138.4 1349.0C1140.4 1348.9 1142.5 1348.9 1144.5 1348.8C1146.5 1348.7 1148.5 1348.7 1150.5 1348.6C1152.5 1348.6 1154.5 1348.5 1156.5 1348.5C1158.5 1348.4 1160.5 1348.4 1162.5 1348.4C1164.5 1348.3 1166.5 1348.3 1168.5 1348.3C1170.5 1348.2 1172.5 1348.2 1174.5 1348.2C1176.5 1348.2 1178.5 1348.1 1180.5 1348.1C1182.5 1348.1 1184.6 1348.1 1186.6 1348.1C1188.6 1348.1 1190.6 1348.1 1192.6 1348.1C1194.6 1348.1 1196.6 1348.1 1198.6 1348.1C1200.6 1348.1 1202.6 1348.1 1204.6 1348.1C1206.6 1348.1 1208.6 1348.1 1210.6 1348.1C1212.6 1348.1 1214.6 1348.2 1216.6 1348.2C1218.6 1348.2 1220.6 1348.2 1222.6 1348.3C1224.6 1348.3 1226.6 1348.3 1228.6 1348.4C1230.6 1348.4 1232.6 1348.4 1234.6 1348.5C1236.6 1348.5 1238.6 1348.6 1240.6 1348.6C1242.6 1348.6 1244.6 1348.7 1246.6 1348.7C1248.6 1348.8 1250.6 1348.9 1252.6 1348.9C1254.6 1349.0 1256.6 1349.0 1258.6 1349.1C1260.6 1349.2 1262.6 1349.2 1264.6 1349.3C1266.6 1349.4 1268.6 1349.4 1270.6 1349.5C1272.6 1349.6 1274.6 1349.6 1276.6 1349.7C1278.6 1349.8 1280.6 1349.9 1282.6 1350.0C1284.6 1350.0 1286.6 1350.1 1288.6 1350.2C1290.6 1350.3 1292.5 1350.4 1294.5 1350.5C1296.5 1350.6 1298.5 1350.7 1300.5 1350.8C1302.5 1350.9 1304.5 1351.0 1306.5 1351.1C1308.5 1351.2 1310.5 1351.3 1312.5 1351.4C1314.5 1351.5 1316.5 1351.6 1318.5 1351.7C1320.5 1351.8 1322.5 1351.9 1324.5 1352.0C1326.5 1352.1 1328.5 1352.2 1330.5 1352.3C1332.5 1352.5 1334.5 1352.6 1336.5 1352.7C1338.5 1352.8 1340.5 1352.9 1342.5 1353.1C1344.5 1353.2 1346.5 1353.3 1348.4 1353.4C1350.4 1353.6 1352.4 1353.7 1354.4 1353.8C1356.4 1353.9 1358.4 1354.1 1360.4 1354.2C1362.4 1354.3 1364.4 1354.5 1366.4 1354.6C1368.4 1354.7 1370.4 1354.9 1372.4 1355.0C1374.4 1355.1 1376.4 1355.3 1378.4 1355.4C1380.4 1355.6 1382.4 1355.7 1384.4 1355.8C1386.4 1356.0 1388.4 1356.1 1390.3 1356.3C1392.3 1356.4 1394.3 1356.6 1396.3 1356.7C1398.3 1356.8 1400.3 1357.0 1402.3 1357.1C1404.3 1357.3 1406.3 1357.4 1408.3 1357.6C1410.3 1357.7 1412.3 1357.9 1414.3 1358.0C1416.3 1358.2 1418.3 1358.3 1420.3 1358.5C1422.3 1358.7 1424.3 1358.8 1426.3 1359.0C1428.3 1359.1 1430.2 1359.3 1432.2 1359.4C1434.2 1359.6 1436.2 1359.7 1438.2 1359.9C1440.2 1360.1 1442.2 1360.2 1444.2 1360.4C1446.2 1360.5 1448.2 1360.7 1450.2 1360.9C1452.2 1361.0 1454.2 1361.2 1456.2 1361.3C1458.2 1361.5 1460.2 1361.7 1462.2 1361.8C1464.2 1362.0 1466.2 1362.1 1468.1 1362.3C1470.1 1362.5 1472.1 1362.6 1474.1 1362.8C1476.1 1362.9 1478.1 1363.1 1480.1 1363.3C1482.1 1363.4 1484.1 1363.6 1486.1 1363.8C1488.1 1363.9 1490.1 1364.1 1492.1 1364.3C1494.1 1364.4 1496.1 1364.6 1498.1 1364.7C1500.1 1364.9 1502.1 1365.1 1504.1 1365.2C1506.1 1365.4 1508.1 1365.6 1510.0 1365.7C1512.0 1365.9 1514.0 1366.0 1516.0 1366.2C1518.0 1366.4 1520.0 1366.5 1522.0 1366.7C1524.0 1366.9 1526.0 1367.0 1528.0 1367.2C1530.0 1367.3 1532.0 1367.5 1534.0 1367.7C1536.0 1367.8 1538.0 1368.0 1540.0 1368.1C1542.0 1368.3 1544.0 1368.5 1546.0 1368.6C1548.0 1368.8 1550.0 1368.9 1552.0 1369.1C1554.0 1369.3 1555.9 1369.4 1557.9 1369.6C1559.9 1369.7 1561.9 1369.9 1563.9 1370.0C1565.9 1370.2 1567.9 1370.3 1569.9 1370.5C1571.9 1370.7 1573.9 1370.8 1575.9 1371.0C1577.9 1371.1 1579.9 1371.3 1581.9 1371.4C1583.9 1371.6 1585.9 1371.7 1587.9 1371.9C1589.9 1372.0 1591.9 1372.2 1593.9 1372.3C1595.9 1372.5 1597.9 1372.6 1599.9 1372.7C1601.9 1372.9 1603.9 1373.0 1605.9 1373.2C1607.9 1373.3 1609.8 1373.5 1611.8 1373.6C1613.8 1373.7 1615.8 1373.9 1617.8 1374.0C1619.8 1374.2 1621.8 1374.3 1623.8 1374.4C1625.8 1374.6 1627.8 1374.7 1629.8 1374.8C1631.8 1375.0 1633.8 1375.1 1635.8 1375.2C1637.8 1375.4 1639.8 1375.5 1641.8 1375.6C1643.8 1375.8 1645.8 1375.9 1647.8 1376.0C1649.8 1376.1 1651.8 1376.3 1653.8 1376.4C1655.8 1376.5 1657.8 1376.6 1659.8 1376.7C1661.8 1376.9 1663.8 1377.0 1665.8 1377.1C1667.8 1377.2 1669.8 1377.3 1671.8 1377.4C1673.8 1377.6 1675.8 1377.7 1677.8 1377.8C1679.8 1377.9 1681.8 1378.0 1683.8 1378.1C1685.8 1378.2 1687.8 1378.3 1689.7 1378.4C1691.7 1378.5 1693.7 1378.6 1695.7 1378.7C1697.7 1378.8 1699.7 1378.9 1701.7 1379.0C1703.7 1379.1 1705.7 1379.2 1707.7 1379.3C1709.7 1379.4 1711.7 1379.4 1713.7 1379.5C1715.7 1379.6 1717.7 1379.7 1719.7 1379.8C1721.7 1379.9 1723.7 1379.9 1725.7 1380.0C1727.7 1380.1 1729.7 1380.2 1731.7 1380.2C1733.7 1380.3 1735.7 1380.4 1737.7 1380.4C1739.7 1380.5 1741.7 1380.6 1743.7 1380.6C1745.7 1380.7 1747.7 1380.8 1749.7 1380.8C1751.7 1380.8 1753.7 1380.8 1755.7 1380.8C1757.7 1380.8 1759.7 1380.8 1761.7 1380.8C1763.7 1380.8 1765.7 1380.8 1767.7 1380.8C1769.7 1380.8 1771.7 1380.8 1773.7 1380.8C1775.7 1380.8 1777.7 1380.8 1779.7 1380.8C1781.7 1380.8 1783.7 1380.8 1785.7 1380.8C1787.7 1380.8 1789.7 1380.8 1791.7 1380.8C1793.7 1380.8 1795.7 1380.8 1797.7 1380.8C1799.7 1380.8 1801.7 1380.8 1803.7 1380.8C1805.7 1380.8 1807.7 1380.8 1809.7 1380.8C1811.7 1380.8 1813.7 1380.8 1815.7 1380.8C1817.7 1380.8 1819.7 1380.8 1821.7 1380.8C1823.7 1380.8 1825.7 1380.8 1827.8 1380.8C1829.8 1380.8 1831.8 1380.8 1833.8 1380.8C1835.8 1380.8 1837.8 1380.8 1839.8 1380.8C1841.8 1380.8 1843.8 1380.8 1845.8 1380.8C1847.8 1380.8 1849.8 1380.8 1851.8 1380.8C1853.8 1380.8 1855.8 1380.8 1857.8 1380.8C1859.8 1380.8 1861.8 1380.8 1863.8 1380.8C1865.8 1380.8 1867.8 1380.8 1869.8 1380.8C1871.8 1380.8 1873.8 1380.8 1875.8 1380.8C1877.8 1380.8 1879.8 1380.8 1881.8 1380.8C1883.8 1380.8 1885.8 1380.8 1887.8 1380.8C1889.8 1380.8 1891.8 1380.8 1893.8 1380.8C1895.8 1380.8 1897.8 1380.8 1899.8 1380.8C1901.8 1380.8 1903.8 1380.8 1905.8 1380.8C1907.8 1380.8 1909.8 1380.8 1911.8 1380.8C1913.8 1380.8 1915.8 1380.8 1917.8 1380.8C1919.9 1380.8 1921.9 1380.8 1923.9 1380.8C1925.9 1380.8 1927.9 1380.8 1929.9 1380.8C1931.9 1380.8 1933.9 1380.7 1935.9 1380.7C1937.9 1380.7 1939.9 1380.7 1941.9 1380.6C1943.9 1380.6 1945.9 1380.6 1947.9 1380.6C1949.9 1380.5 1951.9 1380.5 1953.9 1380.5C1955.9 1380.4 1957.9 1380.4 1959.9 1380.4C1961.9 1380.4 1963.9 1380.3 1965.9 1380.3C1967.9 1380.3 1969.9 1380.3 1971.9 1380.3C1973.9 1380.2 1975.9 1380.2 1977.9 1380.2C1979.9 1380.2 1981.9 1380.2 1983.9 1380.1C1985.9 1380.1 1987.9 1380.1 1989.9 1380.1C1991.9 1380.1 1993.9 1380.1 1995.9 1380.0C1997.9 1380.0 1999.9 1380.0 2001.9 1380.0C2004.0 1380.0 2006.0 1380.0 2008.0 1380.0C2010.0 1380.0 2012.0 1380.0 2014.0 1380.0C2016.0 1380.0 2018.0 1380.0 2020.0 1380.0C2022.0 1380.0 2024.0 1380.0 2026.0 1380.0C2028.0 1380.0 2030.0 1380.0 2032.0 1380.0C2034.0 1380.0 2036.0 1380.0 2038.0 1380.0C2040.0 1380.0 2042.0 1380.0 2044.0 1380.0C2046.0 1380.0 2048.0 1380.1 2050.0 1380.1C2052.0 1380.1 2054.0 1380.1 2056.0 1380.1C2058.0 1380.2 2060.0 1380.2 2062.0 1380.2C2064.0 1380.2 2066.0 1380.3 2068.0 1380.3C2070.0 1380.3 2072.0 1380.4 2074.0 1380.4C2076.0 1380.4 2078.0 1380.5 2080.0 1380.5C2082.0 1380.6 2084.0 1380.6 2086.0 1380.6C2088.0 1380.7 2091.0 1380.8 2092.0 1380.8" fill="none" stroke="#1A70DE" stroke-width="11.5" stroke-linejoin="round" stroke-linecap="square"/>
<path d="M240.5 681.5C240.5 680.5 240.6 677.5 240.7 675.5C240.8 673.5 240.8 671.4 240.9 669.4C241.0 667.4 241.0 665.4 241.1 663.4C241.2 661.4 241.2 659.4 241.3 657.4C241.3 655.3 241.4 653.3 241.5 651.3C241.5 649.3 241.6 647.3 241.6 645.3C241.7 643.3 241.7 641.2 241.8 639.2C241.8 637.2 241.9 635.2 242.0 633.2C242.0 631.2 242.1 629.2 242.1 627.1C242.2 625.1 242.2 623.1 242.3 621.1C242.3 619.1 242.4 617.1 242.4 615.1C242.5 613.1 242.5 611.0 242.6 609.0C242.6 607.0 242.7 605.0 242.7 603.0C242.8 601.0 242.8 598.9 242.9 596.9C242.9 594.9 243.0 592.9 243.0 590.9C243.1 588.9 243.1 586.9 243.2 584.8C243.2 582.8 243.3 580.8 243.3 578.8C243.4 576.8 243.4 574.8 243.5 572.8C243.5 570.7 243.6 568.7 243.6 566.7C243.7 564.7 243.8 562.7 243.8 560.7C243.9 558.7 243.9 556.6 244.0 554.6C244.0 552.6 244.1 550.6 244.1 548.6C244.2 546.6 244.3 544.6 244.3 542.5C244.4 540.5 244.4 538.5 244.5 536.5C244.6 534.5 244.6 532.5 244.7 530.5C244.8 528.4 244.8 526.4 244.9 524.4C245.0 522.4 245.0 520.4 245.1 518.4C245.2 516.4 245.2 514.4 245.3 512.3C245.4 510.3 245.5 508.3 245.5 506.3C245.6 504.3 245.7 502.3 245.8 500.3C245.9 498.3 245.9 496.2 246.0 494.2C246.1 492.2 246.2 490.2 246.3 488.2C246.4 486.2 246.5 484.2 246.5 482.2C246.6 480.1 246.7 478.1 246.8 476.1C246.9 474.1 247.0 472.1 247.1 470.1C247.2 468.1 247.3 466.1 247.4 464.1C247.5 462.0 247.6 460.0 247.8 458.0C247.9 456.0 248.0 454.0 248.1 452.0C248.2 450.0 248.3 448.0 248.4 446.0C248.6 444.0 248.7 442.0 248.8 439.9C248.9 437.9 249.1 435.9 249.2 433.9C249.3 431.9 249.5 429.9 249.6 427.9C249.8 425.9 249.9 423.9 250.0 421.9C250.2 419.9 250.3 417.9 250.5 415.9C250.6 413.9 250.8 411.8 251.0 409.8C251.1 407.8 251.3 405.8 251.4 403.8C251.6 401.8 251.8 399.8 251.9 397.8C252.1 395.8 252.3 393.8 252.5 391.8C252.7 389.8 252.8 387.8 253.0 385.8C253.2 383.8 253.4 381.8 253.6 379.8C253.8 377.8 254.0 375.8 254.2 373.8C254.4 371.8 254.6 369.8 254.8 367.8C255.0 365.8 255.2 363.8 255.4 361.8C255.6 359.8 255.8 357.8 256.0 355.8C256.3 353.8 256.5 351.8 256.7 349.8C256.9 347.8 257.1 345.8 257.4 343.8C257.6 341.8 257.8 339.8 258.1 337.8C258.3 335.8 258.5 333.8 258.8 331.8C259.0 329.8 259.2 327.8 259.5 325.8C259.7 323.8 259.9 321.8 260.2 319.8C260.4 317.8 260.7 315.8 260.9 313.8C261.2 311.8 261.4 309.8 261.6 307.8C261.9 305.8 262.1 303.8 262.4 301.8C262.6 299.8 262.9 297.8 263.1 295.8C263.4 293.8 263.7 291.8 263.9 289.8C264.2 287.8 264.4 285.8 264.7 283.8C264.9 281.8 265.2 279.8 265.4 277.8C265.7 275.8 266.0 273.8 266.2 271.8C266.5 269.8 266.7 267.8 267.0 265.8C267.3 263.8 267.5 261.9 267.8 259.9C268.1 257.9 268.3 255.9 268.6 253.9C268.8 251.9 269.1 249.9 269.4 247.9C269.6 245.9 269.9 243.9 270.1 241.9C270.4 239.9 270.7 237.9 270.9 235.9C271.2 233.9 271.5 231.9 271.7 229.9C272.0 227.9 272.2 225.9 272.5 223.9C272.8 221.9 273.0 219.9 273.3 217.9C273.5 215.9 273.8 213.9 274.0 211.9C274.3 209.9 274.6 207.9 274.8 205.9C275.1 204.0 275.3 202.0 275.6 200.0C275.8 198.0 276.1 196.0 276.3 194.0C276.6 192.0 276.8 190.0 277.1 188.0C277.3 186.0 277.6 184.0 277.8 182.0C278.1 180.0 278.3 178.0 278.5 176.0C278.8 174.0 279.0 172.0 279.3 170.0C279.5 168.0 279.7 166.0 280.0 164.0C280.2 162.0 280.4 160.0 280.7 158.0C280.9 156.0 281.1 154.0 281.3 152.0C281.6 150.0 281.9 147.0 282.0 146.0C282.2 149.2 282.8 159.0 283.2 165.5C283.7 172.0 284.3 181.8 284.5 185.0C284.7 181.8 285.3 172.3 285.8 166.0C286.2 159.7 286.8 150.2 287.0 147.0C287.1 147.9 287.3 150.4 287.4 152.1C287.5 153.8 287.6 155.5 287.8 157.2C287.9 159.0 288.0 160.7 288.1 162.4C288.2 164.1 288.4 165.8 288.5 167.5C288.6 169.2 288.7 170.9 288.9 172.6C289.0 174.3 289.1 176.0 289.2 177.7C289.4 179.5 289.5 181.2 289.6 182.9C289.8 184.6 289.9 187.1 290.0 188.0C290.1 187.0 290.3 183.8 290.4 181.8C290.5 179.7 290.6 177.6 290.8 175.5C290.9 173.4 291.0 171.3 291.1 169.2C291.2 167.2 291.4 165.1 291.5 163.0C291.6 160.9 291.7 158.8 291.9 156.7C292.0 154.7 292.1 152.6 292.2 150.5C292.4 148.4 292.5 146.3 292.6 144.2C292.8 142.2 292.9 139.0 293.0 138.0C293.1 139.0 293.2 142.0 293.3 144.0C293.4 146.0 293.5 148.0 293.6 150.0C293.7 152.0 293.8 154.0 293.9 156.0C294.0 158.0 294.1 160.0 294.2 162.0C294.4 164.0 294.5 166.0 294.6 168.0C294.7 170.0 294.8 172.0 294.9 174.0C295.0 176.0 295.1 178.0 295.2 180.0C295.3 182.0 295.4 185.0 295.5 186.0C295.5 184.9 295.6 181.8 295.7 179.6C295.8 177.5 295.8 175.4 295.9 173.3C295.9 171.1 296.0 169.0 296.1 166.9C296.1 164.8 296.2 162.6 296.2 160.5C296.3 158.4 296.4 156.2 296.4 154.1C296.5 152.0 296.6 149.9 296.6 147.8C296.7 145.6 296.8 143.5 296.8 141.4C296.9 139.2 297.0 136.1 297.0 135.0C297.1 136.0 297.3 138.9 297.4 140.9C297.5 142.8 297.6 144.8 297.8 146.8C297.9 148.7 298.0 150.7 298.1 152.6C298.2 154.6 298.4 156.5 298.5 158.5C298.6 160.5 298.7 162.4 298.9 164.4C299.0 166.3 299.1 168.3 299.2 170.2C299.4 172.2 299.5 174.2 299.6 176.1C299.7 178.1 299.9 181.0 300.0 182.0C300.2 178.9 300.7 169.7 301.0 163.5C301.3 157.3 301.8 148.1 302.0 145.0C302.1 146.0 302.3 149.0 302.5 151.0C302.7 153.0 302.8 155.0 303.0 157.0C303.2 159.0 303.3 161.1 303.5 163.1C303.7 165.1 303.8 167.1 304.0 169.1C304.2 171.1 304.3 173.1 304.5 175.1C304.7 177.1 304.8 179.1 305.0 181.1C305.1 183.1 305.3 185.1 305.5 187.1C305.6 189.1 305.8 191.1 306.0 193.1C306.1 195.1 306.3 197.1 306.4 199.1C306.6 201.1 306.8 203.1 306.9 205.1C307.1 207.1 307.2 209.1 307.4 211.1C307.6 213.1 307.7 215.1 307.9 217.1C308.0 219.1 308.2 221.1 308.4 223.1C308.5 225.1 308.7 227.1 308.8 229.1C309.0 231.1 309.2 233.1 309.3 235.1C309.5 237.1 309.6 239.1 309.8 241.1C310.0 243.1 310.1 245.1 310.3 247.1C310.4 249.1 310.6 251.1 310.7 253.1C310.9 255.0 311.1 257.0 311.2 259.0C311.4 261.0 311.5 263.0 311.7 265.0C311.8 267.0 312.0 269.0 312.1 271.0C312.3 273.0 312.5 275.0 312.6 277.0C312.8 279.0 312.9 281.0 313.1 283.0C313.2 285.0 313.4 287.0 313.6 289.0C313.7 291.0 313.9 293.0 314.0 294.9C314.2 296.9 314.3 298.9 314.5 300.9C314.6 302.9 314.8 304.9 314.9 306.9C315.1 308.9 315.3 310.9 315.4 312.9C315.6 314.9 315.7 316.9 315.9 318.9C316.0 320.9 316.2 322.9 316.3 324.9C316.5 326.9 316.6 328.9 316.8 330.9C317.0 332.9 317.1 334.8 317.3 336.8C317.4 338.8 317.6 340.8 317.7 342.8C317.9 344.8 318.0 346.8 318.2 348.8C318.3 350.8 318.5 352.8 318.7 354.8C318.8 356.8 319.0 358.8 319.1 360.8C319.3 362.8 319.4 364.8 319.6 366.8C319.7 368.8 319.9 370.8 320.0 372.8C320.2 374.8 320.4 376.8 320.5 378.8C320.7 380.8 320.8 382.8 321.0 384.8C321.1 386.8 321.3 388.8 321.4 390.8C321.6 392.8 321.8 394.8 321.9 396.8C322.1 398.8 322.2 400.8 322.4 402.8C322.5 404.8 322.7 406.8 322.8 408.8C323.0 410.8 323.2 412.8 323.3 414.8C323.5 416.8 323.6 418.8 323.8 420.8C323.9 422.8 324.1 424.8 324.3 426.8C324.4 428.8 324.6 430.8 324.7 432.8C324.9 434.8 325.0 436.8 325.2 438.8C325.4 440.8 325.5 442.8 325.7 444.8C325.8 446.8 326.0 448.8 326.1 450.8C326.3 452.8 326.5 454.8 326.6 456.8C326.8 458.9 326.9 460.9 327.1 462.9C327.3 464.9 327.4 466.9 327.6 468.9C327.7 470.9 327.9 472.9 328.1 474.9C328.2 476.9 328.4 479.0 328.5 481.0C328.7 483.0 328.9 485.0 329.0 487.0C329.2 489.0 329.4 491.0 329.5 493.0C329.7 495.0 329.8 497.1 330.0 499.1C330.2 501.1 330.3 503.1 330.5 505.1C330.7 507.1 330.9 509.1 331.0 511.1C331.2 513.1 331.4 515.2 331.5 517.2C331.7 519.2 331.9 521.2 332.1 523.2C332.2 525.2 332.4 527.2 332.6 529.2C332.8 531.2 332.9 533.2 333.1 535.2C333.3 537.2 333.5 539.2 333.7 541.2C333.9 543.2 334.1 545.3 334.2 547.3C334.4 549.3 334.6 551.3 334.8 553.3C335.0 555.3 335.2 557.2 335.4 559.2C335.6 561.2 335.8 563.2 336.0 565.2C336.2 567.2 336.4 569.2 336.6 571.2C336.8 573.2 337.0 575.2 337.2 577.2C337.4 579.2 337.7 581.1 337.9 583.1C338.1 585.1 338.3 587.1 338.5 589.1C338.8 591.1 339.0 593.0 339.2 595.0C339.4 597.0 339.7 599.0 339.9 600.9C340.1 602.9 340.4 604.9 340.6 606.8C340.9 608.8 341.1 610.8 341.3 612.7C341.6 614.7 341.8 616.6 342.1 618.6C342.3 620.6 342.6 622.5 342.9 624.5C343.1 626.4 343.4 628.4 343.7 630.3C343.9 632.3 344.2 634.2 344.5 636.1C344.7 638.1 345.0 640.0 345.3 642.0C345.6 643.9 345.9 645.8 346.2 647.8C346.5 649.7 346.7 651.6 347.0 653.6C347.3 655.5 347.6 657.5 348.0 659.4C348.3 661.4 348.6 663.3 348.9 665.3C349.2 667.3 349.5 669.2 349.9 671.2C350.2 673.2 350.5 675.2 350.9 677.2C351.2 679.2 351.5 681.2 351.9 683.2C352.2 685.2 352.6 687.2 352.9 689.3C353.3 691.3 353.7 693.3 354.0 695.4C354.4 697.5 354.8 699.6 355.1 701.7C355.5 703.7 355.9 705.9 356.3 708.0C356.7 710.1 357.1 712.3 357.5 714.4C357.9 716.6 358.3 718.8 358.8 720.9C359.2 723.1 359.7 725.2 360.2 727.3C360.7 729.4 361.2 731.5 361.8 733.5C362.3 735.5 362.9 737.5 363.6 739.4C364.3 741.3 365.0 743.1 365.8 744.9C366.5 746.6 367.4 748.2 368.3 749.7C369.2 751.3 370.2 752.7 371.3 753.9C372.3 755.2 373.5 756.4 374.7 757.4C376.0 758.3 377.4 759.3 378.7 759.8C380.1 760.4 381.6 760.8 383.0 760.6C384.4 760.5 385.9 759.8 387.2 758.8C388.5 757.9 389.7 756.3 390.9 754.8C392.0 753.3 393.0 751.6 394.0 749.8C395.0 748.1 395.9 746.3 396.7 744.4C397.5 742.5 398.3 740.6 399.0 738.6C399.7 736.6 400.4 734.6 401.0 732.6C401.6 730.5 402.2 728.5 402.8 726.4C403.3 724.3 403.9 722.3 404.4 720.2C404.9 718.1 405.4 716.1 406.0 714.0C406.5 712.0 407.0 710.0 407.5 708.0C408.0 705.9 408.4 703.9 408.9 701.9C409.4 699.9 409.9 697.9 410.3 695.9C410.8 694.0 411.2 692.0 411.7 690.0C412.1 688.0 412.5 686.1 413.0 684.1C413.4 682.1 413.8 680.2 414.3 678.2C414.7 676.3 415.1 674.3 415.5 672.4C415.9 670.4 416.3 668.5 416.7 666.5C417.1 664.6 417.5 662.6 417.9 660.7C418.3 658.8 418.7 656.8 419.1 654.9C419.4 652.9 419.8 651.0 420.2 649.1C420.6 647.1 420.9 645.2 421.3 643.2C421.7 641.3 422.1 639.3 422.4 637.4C422.8 635.4 423.2 633.5 423.5 631.5C423.9 629.6 424.3 627.6 424.6 625.7C425.0 623.7 425.3 621.7 425.7 619.8C426.0 617.8 426.4 615.9 426.7 613.9C427.1 611.9 427.4 610.0 427.8 608.0C428.1 606.0 428.5 604.1 428.8 602.1C429.2 600.1 429.5 598.2 429.8 596.2C430.2 594.2 430.5 592.3 430.8 590.3C431.2 588.3 431.5 586.4 431.8 584.4C432.1 582.4 432.5 580.4 432.8 578.5C433.1 576.5 433.4 574.5 433.7 572.5C434.1 570.5 434.4 568.6 434.7 566.6C435.0 564.6 435.3 562.6 435.6 560.6C435.9 558.7 436.2 556.7 436.5 554.7C436.8 552.7 437.1 550.7 437.4 548.7C437.7 546.8 438.0 544.8 438.3 542.8C438.6 540.8 438.9 538.8 439.2 536.8C439.5 534.8 439.8 532.8 440.1 530.9C440.4 528.9 440.6 526.9 440.9 524.9C441.2 522.9 441.5 520.9 441.8 518.9C442.0 516.9 442.3 514.9 442.6 512.9C442.9 510.9 443.1 508.9 443.4 506.9C443.7 505.0 443.9 503.0 444.2 501.0C444.5 499.0 444.7 497.0 445.0 495.0C445.3 493.0 445.5 491.0 445.8 489.0C446.0 487.0 446.3 485.0 446.6 483.0C446.8 481.0 447.1 479.0 447.3 477.0C447.6 475.0 447.8 473.0 448.1 471.0C448.3 469.0 448.6 467.0 448.8 465.0C449.1 463.0 449.3 461.0 449.6 459.0C449.8 457.0 450.0 455.0 450.3 453.0C450.5 451.0 450.8 449.0 451.0 447.0C451.3 445.0 451.5 443.0 451.8 441.0C452.0 439.0 452.3 437.0 452.5 435.0C452.7 433.1 453.0 431.1 453.2 429.1C453.5 427.1 453.7 425.1 454.0 423.1C454.2 421.1 454.5 419.1 454.7 417.1C455.0 415.1 455.2 413.1 455.5 411.1C455.7 409.1 456.0 407.1 456.2 405.1C456.5 403.1 456.7 401.1 457.0 399.1C457.3 397.1 457.5 395.1 457.8 393.2C458.0 391.2 458.3 389.2 458.6 387.2C458.8 385.2 459.1 383.2 459.4 381.2C459.6 379.2 459.9 377.2 460.2 375.2C460.5 373.3 460.7 371.3 461.0 369.3C461.3 367.3 461.6 365.3 461.9 363.3C462.1 361.3 462.4 359.4 462.7 357.4C463.0 355.4 463.3 353.4 463.6 351.4C463.9 349.4 464.2 347.5 464.5 345.5C464.8 343.5 465.1 341.5 465.4 339.6C465.7 337.6 466.0 335.6 466.4 333.6C466.7 331.7 467.0 329.7 467.3 327.7C467.7 325.7 468.0 323.8 468.3 321.8C468.7 319.8 469.0 317.9 469.3 315.9C469.7 313.9 470.0 312.0 470.4 310.0C470.7 308.0 471.1 306.1 471.5 304.1C471.8 302.1 472.2 300.2 472.6 298.2C472.9 296.3 473.3 294.3 473.7 292.4C474.1 290.4 474.5 288.4 474.9 286.5C475.3 284.5 475.7 282.6 476.1 280.6C476.5 278.7 476.9 276.7 477.3 274.8C477.8 272.9 478.2 270.9 478.6 269.0C479.0 267.0 479.5 265.1 479.9 263.1C480.4 261.2 480.8 259.3 481.3 257.3C481.7 255.4 482.2 253.5 482.7 251.5C483.2 249.6 483.6 247.7 484.1 245.8C484.6 243.8 485.1 241.9 485.6 240.0C486.1 238.1 486.6 236.1 487.1 234.2C487.6 232.3 488.2 230.4 488.7 228.5C489.2 226.5 489.8 224.6 490.3 222.7C490.9 220.8 491.7 218.0 492.0 217.0C492.5 217.0 493.9 217.0 494.8 217.1C495.8 217.1 496.8 217.2 497.7 217.3C498.7 217.4 499.7 217.5 500.7 217.5C501.7 217.6 502.7 217.6 503.7 217.6C504.7 217.6 505.6 217.5 506.6 217.3C507.5 217.1 508.4 216.9 509.3 216.6C510.2 216.2 511.0 215.8 511.8 215.2C512.6 214.6 513.6 213.4 514.0 213.0C514.3 212.1 515.3 209.5 515.8 207.8C516.3 206.0 516.7 204.2 517.0 202.3C517.3 200.5 517.6 198.7 517.8 196.8C518.0 195.0 518.2 193.1 518.4 191.3C518.6 189.4 518.8 187.6 519.1 185.7C519.4 183.9 519.7 182.1 520.1 180.3C520.5 178.5 521.0 176.8 521.7 175.0C522.3 173.3 523.6 170.8 524.0 170.0C524.5 171.0 526.0 172.8 527.0 176.0C528.0 179.2 529.5 186.8 530.0 189.0C530.7 188.7 532.6 187.5 534.0 187.0C535.4 186.5 537.8 186.2 538.5 186.0C538.6 187.0 539.1 190.0 539.4 191.9C539.7 193.9 540.0 195.9 540.3 197.9C540.6 199.9 540.9 201.8 541.2 203.8C541.4 205.8 541.7 207.8 542.0 209.8C542.3 211.7 542.6 213.7 542.9 215.7C543.2 217.7 543.5 219.7 543.7 221.7C544.0 223.6 544.3 225.6 544.6 227.6C544.9 229.6 545.1 231.6 545.4 233.5C545.7 235.5 546.0 237.5 546.3 239.5C546.5 241.5 546.8 243.5 547.1 245.4C547.4 247.4 547.6 249.4 547.9 251.4C548.2 253.4 548.4 255.4 548.7 257.3C549.0 259.3 549.2 261.3 549.5 263.3C549.8 265.3 550.0 267.3 550.3 269.2C550.6 271.2 550.8 273.2 551.1 275.2C551.4 277.2 551.6 279.2 551.9 281.1C552.2 283.1 552.4 285.1 552.7 287.1C552.9 289.1 553.2 291.1 553.4 293.0C553.7 295.0 554.0 297.0 554.2 299.0C554.5 301.0 554.7 303.0 555.0 305.0C555.2 306.9 555.5 308.9 555.7 310.9C556.0 312.9 556.2 314.9 556.5 316.9C556.7 318.9 557.0 320.8 557.2 322.8C557.5 324.8 557.7 326.8 558.0 328.8C558.2 330.8 558.5 332.8 558.7 334.7C558.9 336.7 559.2 338.7 559.4 340.7C559.7 342.7 559.9 344.7 560.1 346.7C560.4 348.6 560.6 350.6 560.9 352.6C561.1 354.6 561.3 356.6 561.6 358.6C561.8 360.6 562.1 362.6 562.3 364.5C562.5 366.5 562.8 368.5 563.0 370.5C563.2 372.5 563.5 374.5 563.7 376.5C563.9 378.5 564.2 380.4 564.4 382.4C564.6 384.4 564.9 386.4 565.1 388.4C565.3 390.4 565.5 392.4 565.8 394.4C566.0 396.3 566.2 398.3 566.5 400.3C566.7 402.3 566.9 404.3 567.1 406.3C567.4 408.3 567.6 410.3 567.8 412.3C568.0 414.2 568.3 416.2 568.5 418.2C568.7 420.2 568.9 422.2 569.2 424.2C569.4 426.2 569.6 428.2 569.8 430.2C570.0 432.1 570.3 434.1 570.5 436.1C570.7 438.1 570.9 440.1 571.2 442.1C571.4 444.1 571.6 446.1 571.8 448.1C572.0 450.0 572.2 452.0 572.5 454.0C572.7 456.0 572.9 458.0 573.1 460.0C573.3 462.0 573.6 464.0 573.8 466.0C574.0 468.0 574.2 469.9 574.4 471.9C574.6 473.9 574.8 475.9 575.1 477.9C575.3 479.9 575.5 481.9 575.7 483.9C575.9 485.9 576.1 487.9 576.3 489.8C576.6 491.8 576.8 493.8 577.0 495.8C577.2 497.8 577.4 499.8 577.6 501.8C577.8 503.8 578.0 505.8 578.3 507.8C578.5 509.7 578.7 511.7 578.9 513.7C579.1 515.7 579.3 517.7 579.5 519.7C579.7 521.7 579.9 523.7 580.2 525.7C580.4 527.7 580.6 529.7 580.8 531.6C581.0 533.6 581.2 535.6 581.4 537.6C581.6 539.6 581.8 541.6 582.0 543.6C582.2 545.6 582.5 547.6 582.7 549.6C582.9 551.6 583.1 553.5 583.3 555.5C583.5 557.5 583.7 559.5 583.9 561.5C584.1 563.5 584.3 565.5 584.5 567.5C584.7 569.5 585.0 571.5 585.2 573.5C585.4 575.4 585.6 577.4 585.8 579.4C586.0 581.4 586.2 583.4 586.4 585.4C586.6 587.4 586.8 589.4 587.0 591.4C587.2 593.4 587.5 595.4 587.7 597.4C587.9 599.3 588.1 601.3 588.3 603.3C588.5 605.3 588.7 607.3 588.9 609.3C589.1 611.3 589.3 613.3 589.5 615.3C589.7 617.3 590.0 619.3 590.2 621.2C590.4 623.2 590.6 625.2 590.8 627.2C591.0 629.2 591.2 631.2 591.4 633.2C591.6 635.2 591.8 637.2 592.0 639.2C592.3 641.2 592.5 643.2 592.7 645.1C592.9 647.1 593.1 649.1 593.3 651.1C593.5 653.1 593.7 655.1 593.9 657.1C594.2 659.1 594.4 661.1 594.6 663.1C594.8 665.1 595.0 667.0 595.2 669.0C595.4 671.0 595.6 673.0 595.8 675.0C596.1 677.0 596.3 679.0 596.5 681.0C596.7 683.0 596.9 685.0 597.1 687.0C597.3 689.0 597.6 690.9 597.8 692.9C598.0 694.9 598.2 696.9 598.4 698.9C598.6 700.9 598.8 702.9 599.1 704.9C599.3 706.9 599.5 708.9 599.7 710.9C599.9 712.8 600.1 714.8 600.4 716.8C600.6 718.8 600.8 720.8 601.0 722.8C601.2 724.8 601.5 726.8 601.7 728.8C601.9 730.8 602.1 732.8 602.3 734.7C602.6 736.7 602.8 738.7 603.0 740.7C603.2 742.7 603.4 744.7 603.7 746.7C603.9 748.7 604.1 750.7 604.3 752.7C604.6 754.7 604.8 756.6 605.0 758.6C605.2 760.6 605.5 762.6 605.7 764.6C605.9 766.6 606.1 768.6 606.4 770.6C606.6 772.6 606.8 774.6 607.1 776.5C607.3 778.5 607.5 780.5 607.7 782.5C608.0 784.5 608.2 786.5 608.4 788.5C608.7 790.5 608.9 792.5 609.1 794.5C609.4 796.4 609.6 798.4 609.8 800.4C610.1 802.4 610.3 804.4 610.5 806.4C610.8 808.4 611.0 810.4 611.3 812.4C611.5 814.4 611.7 816.3 612.0 818.3C612.2 820.3 612.5 822.3 612.7 824.3C612.9 826.3 613.2 828.3 613.4 830.3C613.7 832.2 613.9 834.2 614.2 836.2C614.4 838.2 614.7 840.2 614.9 842.2C615.2 844.2 615.4 846.2 615.7 848.1C615.9 850.1 616.2 852.1 616.5 854.1C616.7 856.1 617.0 858.1 617.3 860.1C617.5 862.0 617.8 864.0 618.1 866.0C618.3 868.0 618.6 870.0 618.9 872.0C619.2 873.9 619.5 875.9 619.7 877.9C620.0 879.9 620.3 881.9 620.6 883.8C620.9 885.8 621.2 887.8 621.5 889.8C621.8 891.8 622.1 893.7 622.4 895.7C622.7 897.7 623.0 899.7 623.3 901.7C623.6 903.6 623.9 905.6 624.2 907.6C624.6 909.6 624.9 911.5 625.2 913.5C625.5 915.5 625.9 917.4 626.2 919.4C626.5 921.4 626.9 923.4 627.2 925.3C627.5 927.3 627.9 929.3 628.2 931.2C628.6 933.2 629.0 935.2 629.3 937.1C629.7 939.1 630.0 941.1 630.4 943.0C630.8 945.0 631.2 947.0 631.5 948.9C631.9 950.9 632.3 952.8 632.7 954.8C633.1 956.8 633.5 958.7 633.9 960.7C634.3 962.6 634.7 964.6 635.1 966.5C635.5 968.5 636.0 970.4 636.4 972.4C636.8 974.4 637.2 976.3 637.7 978.3C638.1 980.2 638.5 982.2 639.0 984.1C639.4 986.0 639.9 988.0 640.4 989.9C640.8 991.9 641.3 993.8 641.8 995.8C642.2 997.7 642.7 999.7 643.2 1001.6C643.7 1003.5 644.2 1005.5 644.7 1007.4C645.2 1009.3 645.7 1011.3 646.2 1013.2C646.7 1015.1 647.3 1017.1 647.8 1019.0C648.3 1020.9 648.9 1022.9 649.4 1024.8C649.9 1026.7 650.5 1028.6 651.1 1030.6C651.6 1032.5 652.2 1034.4 652.8 1036.3C653.3 1038.3 653.9 1040.2 654.5 1042.1C655.1 1044.0 655.7 1045.9 656.3 1047.8C656.9 1049.8 657.5 1051.7 658.1 1053.6C658.8 1055.5 659.4 1057.4 660.0 1059.3C660.7 1061.2 661.3 1063.1 662.0 1065.0C662.6 1066.9 663.3 1068.8 664.0 1070.7C664.7 1072.6 665.3 1074.5 666.0 1076.4C666.7 1078.3 667.4 1080.2 668.1 1082.1C668.8 1084.0 669.6 1085.9 670.3 1087.8C671.0 1089.6 671.8 1091.5 672.5 1093.4C673.3 1095.3 674.0 1097.2 674.8 1099.1C675.5 1100.9 676.3 1102.8 677.1 1104.7C677.9 1106.6 678.7 1108.4 679.5 1110.3C680.3 1112.2 681.1 1114.0 682.0 1115.9C682.8 1117.7 683.7 1119.6 684.5 1121.4C685.4 1123.2 686.3 1125.0 687.2 1126.8C688.2 1128.6 689.1 1130.4 690.1 1132.1C691.0 1133.9 692.0 1135.6 693.0 1137.3C694.0 1139.0 695.1 1140.7 696.1 1142.4C697.2 1144.1 698.3 1145.7 699.5 1147.3C700.6 1148.9 701.8 1150.5 703.0 1152.0C704.2 1153.5 705.4 1155.0 706.7 1156.5C708.0 1157.9 709.3 1159.4 710.6 1160.8C712.0 1162.1 713.4 1163.5 714.8 1164.8C716.3 1166.1 717.8 1167.3 719.3 1168.5C720.8 1169.7 722.4 1170.9 724.0 1172.0C725.7 1173.1 727.3 1174.1 729.0 1175.1C730.7 1176.1 732.5 1177.1 734.2 1178.0C736.0 1178.9 737.8 1179.8 739.6 1180.6C741.5 1181.4 743.3 1182.2 745.2 1182.9C747.1 1183.6 749.0 1184.3 750.9 1184.9C752.9 1185.5 754.8 1186.0 756.8 1186.6C758.8 1187.1 760.7 1187.5 762.7 1188.0C764.7 1188.4 766.7 1188.7 768.7 1189.1C770.8 1189.4 772.8 1189.6 774.8 1189.9C776.8 1190.1 778.9 1190.3 780.9 1190.4C782.9 1190.6 784.9 1190.7 787.0 1190.8C789.0 1190.9 791.0 1191.0 793.1 1191.1C795.1 1191.2 797.1 1191.3 799.2 1191.3C801.2 1191.4 803.2 1191.5 805.2 1191.6C807.2 1191.6 809.2 1191.7 811.2 1191.9C813.2 1192.0 815.2 1192.1 817.2 1192.3C819.1 1192.5 821.1 1192.7 823.0 1192.9C825.0 1193.2 826.9 1193.4 828.8 1193.8C830.7 1194.1 832.6 1194.5 834.5 1195.0C836.4 1195.4 838.2 1195.9 840.0 1196.5C841.9 1197.1 843.7 1197.7 845.5 1198.5C847.2 1199.2 849.0 1200.0 850.8 1200.8C852.5 1201.6 854.2 1202.5 855.9 1203.5C857.6 1204.4 859.3 1205.4 860.9 1206.5C862.6 1207.5 864.2 1208.6 865.8 1209.8C867.4 1210.9 869.0 1212.1 870.6 1213.3C872.2 1214.5 873.7 1215.8 875.2 1217.1C876.7 1218.4 878.2 1219.7 879.7 1221.0C881.2 1222.4 882.6 1223.8 884.1 1225.2C885.5 1226.6 886.9 1228.0 888.3 1229.4C889.7 1230.9 891.0 1232.3 892.4 1233.8C893.7 1235.3 895.1 1236.8 896.4 1238.3C897.7 1239.9 899.0 1241.4 900.2 1243.0C901.5 1244.5 902.8 1246.1 904.0 1247.7C905.3 1249.3 906.5 1250.9 907.8 1252.5C909.0 1254.1 910.2 1255.8 911.4 1257.4C912.6 1259.0 913.8 1260.7 915.0 1262.4C916.2 1264.0 917.4 1265.7 918.5 1267.4C919.7 1269.1 920.9 1270.8 922.0 1272.5C923.2 1274.2 924.4 1275.9 925.5 1277.6C926.7 1279.3 927.8 1281.0 929.0 1282.7C930.1 1284.4 931.3 1286.1 932.4 1287.9C933.6 1289.6 934.7 1291.3 935.9 1293.0C937.1 1294.7 938.2 1296.4 939.4 1298.1C940.6 1299.8 941.8 1301.5 943.0 1303.1C944.2 1304.8 945.4 1306.4 946.6 1308.0C947.8 1309.6 949.1 1311.2 950.3 1312.7C951.6 1314.3 952.9 1315.8 954.2 1317.2C955.4 1318.7 956.8 1320.2 958.1 1321.5C959.5 1322.9 960.8 1324.3 962.2 1325.6C963.6 1326.9 965.0 1328.1 966.5 1329.3C968.0 1330.5 969.4 1331.6 971.0 1332.7C972.5 1333.7 974.0 1334.8 975.6 1335.7C977.2 1336.6 978.9 1337.5 980.5 1338.3C982.2 1339.1 983.9 1339.8 985.7 1340.4C987.4 1341.1 989.2 1341.6 991.0 1342.2C992.8 1342.7 994.7 1343.1 996.6 1343.5C998.4 1343.9 1000.3 1344.2 1002.3 1344.5C1004.2 1344.8 1006.2 1345.0 1008.1 1345.2C1010.1 1345.4 1012.1 1345.5 1014.1 1345.6C1016.1 1345.7 1018.2 1345.7 1020.2 1345.7C1022.2 1345.8 1024.3 1345.7 1026.3 1345.7C1028.4 1345.6 1030.5 1345.6 1032.5 1345.5C1034.6 1345.4 1036.7 1345.2 1038.7 1345.1C1040.8 1345.0 1042.8 1344.8 1044.9 1344.6C1047.0 1344.4 1049.0 1344.3 1051.1 1344.1C1053.1 1343.9 1055.1 1343.7 1057.2 1343.5C1059.2 1343.2 1061.2 1343.0 1063.3 1342.8C1065.3 1342.6 1067.3 1342.3 1069.3 1342.1C1071.3 1341.8 1073.4 1341.6 1075.4 1341.3C1077.4 1341.1 1079.4 1340.8 1081.4 1340.6C1083.4 1340.3 1085.4 1340.0 1087.4 1339.8C1089.4 1339.5 1091.3 1339.2 1093.3 1338.9C1095.3 1338.7 1097.3 1338.4 1099.3 1338.1C1101.3 1337.9 1103.3 1337.6 1105.3 1337.3C1107.2 1337.0 1109.2 1336.8 1111.2 1336.5C1113.2 1336.2 1115.2 1336.0 1117.2 1335.7C1119.1 1335.4 1121.1 1335.2 1123.1 1334.9C1125.1 1334.7 1127.1 1334.4 1129.1 1334.2C1131.0 1334.0 1133.0 1333.7 1135.0 1333.5C1137.0 1333.3 1139.0 1333.0 1141.0 1332.8C1143.0 1332.6 1145.0 1332.4 1146.9 1332.2C1148.9 1331.9 1150.9 1331.7 1152.9 1331.5C1154.9 1331.3 1156.9 1331.1 1158.9 1330.9C1160.9 1330.7 1162.9 1330.6 1164.8 1330.4C1166.8 1330.2 1168.8 1330.0 1170.8 1329.8C1172.8 1329.7 1174.8 1329.5 1176.8 1329.3C1178.8 1329.2 1180.8 1329.0 1182.8 1328.8C1184.8 1328.7 1186.8 1328.5 1188.7 1328.4C1190.7 1328.2 1192.7 1328.1 1194.7 1328.0C1196.7 1327.8 1198.7 1327.7 1200.7 1327.6C1202.7 1327.4 1204.7 1327.3 1206.7 1327.2C1208.7 1327.1 1210.7 1326.9 1212.7 1326.8C1214.7 1326.7 1216.7 1326.6 1218.7 1326.5C1220.7 1326.4 1222.7 1326.3 1224.7 1326.2C1226.7 1326.1 1228.7 1326.1 1230.7 1326.0C1232.7 1325.9 1234.6 1325.8 1236.6 1325.7C1238.6 1325.7 1240.6 1325.6 1242.6 1325.5C1244.6 1325.5 1246.6 1325.4 1248.6 1325.4C1250.6 1325.3 1252.6 1325.2 1254.6 1325.2C1256.6 1325.2 1258.6 1325.1 1260.6 1325.1C1262.6 1325.0 1264.6 1325.0 1266.6 1325.0C1268.6 1325.0 1270.6 1324.9 1272.6 1324.9C1274.6 1324.9 1276.6 1324.9 1278.6 1324.9C1280.6 1324.9 1282.6 1324.9 1284.6 1324.9C1286.6 1324.8 1288.6 1324.9 1290.6 1324.9C1292.6 1324.9 1294.6 1324.9 1296.6 1324.9C1298.6 1324.9 1300.6 1324.9 1302.6 1325.0C1304.6 1325.0 1306.6 1325.0 1308.6 1325.1C1310.6 1325.1 1312.6 1325.1 1314.6 1325.2C1316.6 1325.2 1318.6 1325.3 1320.6 1325.3C1322.6 1325.4 1324.6 1325.4 1326.6 1325.5C1328.6 1325.6 1330.6 1325.6 1332.6 1325.7C1334.6 1325.8 1336.6 1325.8 1338.6 1325.9C1340.6 1326.0 1342.6 1326.1 1344.6 1326.2C1346.6 1326.3 1348.6 1326.4 1350.6 1326.5C1352.6 1326.5 1354.6 1326.7 1356.6 1326.8C1358.6 1326.9 1360.5 1327.0 1362.5 1327.1C1364.5 1327.2 1366.5 1327.3 1368.5 1327.4C1370.5 1327.6 1372.5 1327.7 1374.5 1327.8C1376.5 1328.0 1378.5 1328.1 1380.5 1328.2C1382.5 1328.4 1384.5 1328.5 1386.5 1328.7C1388.5 1328.8 1390.5 1329.0 1392.5 1329.1C1394.5 1329.3 1396.5 1329.5 1398.5 1329.6C1400.5 1329.8 1402.4 1330.0 1404.4 1330.1C1406.4 1330.3 1408.4 1330.5 1410.4 1330.7C1412.4 1330.9 1414.4 1331.1 1416.4 1331.3C1418.4 1331.4 1420.4 1331.6 1422.4 1331.8C1424.4 1332.0 1426.3 1332.3 1428.3 1332.5C1430.3 1332.7 1432.3 1332.9 1434.3 1333.1C1436.3 1333.3 1438.3 1333.5 1440.3 1333.8C1442.3 1334.0 1444.2 1334.2 1446.2 1334.5C1448.2 1334.7 1450.2 1334.9 1452.2 1335.2C1454.2 1335.4 1456.2 1335.7 1458.1 1335.9C1460.1 1336.2 1462.1 1336.4 1464.1 1336.7C1466.1 1336.9 1468.1 1337.2 1470.1 1337.5C1472.0 1337.7 1474.0 1338.0 1476.0 1338.3C1478.0 1338.5 1480.0 1338.8 1482.0 1339.1C1483.9 1339.4 1485.9 1339.6 1487.9 1339.9C1489.9 1340.2 1491.9 1340.5 1493.9 1340.8C1495.8 1341.1 1497.8 1341.3 1499.8 1341.6C1501.8 1341.9 1503.8 1342.2 1505.7 1342.5C1507.7 1342.8 1509.7 1343.1 1511.7 1343.4C1513.7 1343.7 1515.6 1344.0 1517.6 1344.3C1519.6 1344.6 1521.6 1344.9 1523.6 1345.2C1525.5 1345.5 1527.5 1345.8 1529.5 1346.1C1531.5 1346.5 1533.5 1346.8 1535.4 1347.1C1537.4 1347.4 1539.4 1347.7 1541.4 1348.0C1543.4 1348.3 1545.3 1348.6 1547.3 1348.9C1549.3 1349.3 1551.3 1349.6 1553.3 1349.9C1555.2 1350.2 1557.2 1350.5 1559.2 1350.8C1561.2 1351.2 1563.2 1351.5 1565.1 1351.8C1567.1 1352.1 1569.1 1352.4 1571.1 1352.7C1573.0 1353.1 1575.0 1353.4 1577.0 1353.7C1579.0 1354.0 1581.0 1354.3 1582.9 1354.6C1584.9 1355.0 1586.9 1355.3 1588.9 1355.6C1590.8 1355.9 1592.8 1356.2 1594.8 1356.5C1596.8 1356.9 1598.8 1357.2 1600.7 1357.5C1602.7 1357.8 1604.7 1358.1 1606.7 1358.4C1608.7 1358.7 1610.6 1359.0 1612.6 1359.3C1614.6 1359.7 1616.6 1360.0 1618.6 1360.3C1620.5 1360.6 1622.5 1360.9 1624.5 1361.2C1626.5 1361.5 1628.5 1361.8 1630.4 1362.1C1632.4 1362.4 1634.4 1362.7 1636.4 1363.0C1638.4 1363.3 1640.3 1363.6 1642.3 1363.8C1644.3 1364.1 1646.3 1364.4 1648.3 1364.7C1650.2 1365.0 1652.2 1365.3 1654.2 1365.6C1656.2 1365.8 1658.2 1366.1 1660.1 1366.4C1662.1 1366.7 1664.1 1366.9 1666.1 1367.2C1668.1 1367.5 1670.1 1367.7 1672.0 1368.0C1674.0 1368.3 1676.0 1368.5 1678.0 1368.8C1680.0 1369.0 1682.0 1369.3 1683.9 1369.5C1685.9 1369.8 1687.9 1370.0 1689.9 1370.3C1691.9 1370.5 1693.9 1370.8 1695.8 1371.0C1697.8 1371.2 1699.8 1371.5 1701.8 1371.7C1703.8 1371.9 1705.8 1372.1 1707.8 1372.4C1709.8 1372.6 1711.7 1372.8 1713.7 1373.0C1715.7 1373.2 1717.7 1373.4 1719.7 1373.6C1721.7 1373.8 1723.7 1374.0 1725.7 1374.2C1727.6 1374.4 1729.6 1374.6 1731.6 1374.8C1733.6 1374.9 1735.6 1375.1 1737.6 1375.3C1739.6 1375.5 1741.6 1375.6 1743.6 1375.8C1745.6 1375.9 1747.6 1376.1 1749.6 1376.3C1751.6 1376.4 1753.5 1376.5 1755.5 1376.7C1757.5 1376.8 1759.5 1377.0 1761.5 1377.1C1763.5 1377.2 1765.5 1377.3 1767.5 1377.4C1769.5 1377.6 1771.5 1377.7 1773.5 1377.8C1775.5 1377.9 1777.5 1378.0 1779.5 1378.1C1781.5 1378.2 1783.5 1378.3 1785.5 1378.4C1787.5 1378.5 1789.5 1378.5 1791.5 1378.6C1793.5 1378.7 1795.5 1378.8 1797.5 1378.8C1799.5 1378.9 1801.5 1379.0 1803.5 1379.0C1805.5 1379.1 1807.5 1379.2 1809.5 1379.2C1811.5 1379.3 1813.5 1379.3 1815.5 1379.4C1817.5 1379.4 1819.5 1379.5 1821.5 1379.5C1823.5 1379.5 1825.5 1379.6 1827.5 1379.6C1829.5 1379.6 1831.5 1379.7 1833.5 1379.7C1835.5 1379.7 1837.5 1379.8 1839.6 1379.8C1841.6 1379.8 1843.6 1379.8 1845.6 1379.8C1847.6 1379.8 1849.6 1379.9 1851.6 1379.9C1853.6 1379.9 1855.6 1379.9 1857.6 1379.9C1859.6 1379.9 1861.6 1379.9 1863.6 1379.9C1865.6 1379.9 1867.6 1379.9 1869.6 1379.9C1871.6 1379.9 1873.7 1379.9 1875.7 1379.9C1877.7 1379.9 1879.7 1379.9 1881.7 1379.9C1883.7 1379.8 1885.7 1379.8 1887.7 1379.8C1889.7 1379.8 1891.7 1379.8 1893.7 1379.8C1895.7 1379.8 1897.7 1379.7 1899.7 1379.7C1901.8 1379.7 1903.8 1379.7 1905.8 1379.7C1907.8 1379.6 1909.8 1379.6 1911.8 1379.6C1913.8 1379.6 1915.8 1379.5 1917.8 1379.5C1919.8 1379.5 1921.8 1379.5 1923.8 1379.4C1925.8 1379.4 1927.9 1379.4 1929.9 1379.4C1931.9 1379.3 1933.9 1379.3 1935.9 1379.3C1937.9 1379.3 1939.9 1379.2 1941.9 1379.2C1943.9 1379.2 1945.9 1379.2 1947.9 1379.1C1949.9 1379.1 1951.9 1379.1 1954.0 1379.1C1956.0 1379.0 1958.0 1379.0 1960.0 1379.0C1962.0 1379.0 1964.0 1379.0 1966.0 1378.9C1968.0 1378.9 1970.0 1378.9 1972.0 1378.9C1974.0 1378.9 1976.0 1378.8 1978.0 1378.8C1980.0 1378.8 1982.0 1378.8 1984.0 1378.8C1986.1 1378.8 1988.1 1378.8 1990.1 1378.7C1992.1 1378.7 1994.1 1378.7 1996.1 1378.7C1998.1 1378.7 2000.1 1378.7 2002.1 1378.7C2004.1 1378.7 2006.1 1378.7 2008.1 1378.7C2010.1 1378.7 2012.1 1378.7 2014.1 1378.7C2016.1 1378.7 2018.1 1378.7 2020.1 1378.7C2022.1 1378.7 2024.1 1378.7 2026.1 1378.8C2028.1 1378.8 2030.1 1378.8 2032.1 1378.8C2034.1 1378.8 2036.1 1378.9 2038.1 1378.9C2040.1 1378.9 2042.1 1378.9 2044.1 1379.0C2046.1 1379.0 2048.1 1379.1 2050.1 1379.1C2052.1 1379.1 2054.1 1379.2 2056.1 1379.2C2058.1 1379.3 2060.1 1379.3 2062.1 1379.4C2064.1 1379.4 2066.1 1379.5 2068.1 1379.5C2070.1 1379.6 2072.1 1379.7 2074.1 1379.7C2076.1 1379.8 2078.1 1379.9 2080.0 1380.0C2082.0 1380.1 2084.0 1380.1 2086.0 1380.2C2088.0 1380.3 2091.0 1380.5 2092.0 1380.5" fill="none" stroke="#36AD6A" stroke-width="11.5" stroke-linejoin="round" stroke-linecap="square"/>
<path d="M500.0 212.0 L512.0 200.0 L516.0 172.0 L520.0 165.0 L527.0 165.0 L531.0 176.0 L533.0 181.0 L542.0 181.0 L544.0 200.0 L544.0 228.0 L537.0 224.0 L530.0 223.0 L520.0 226.0 L505.0 226.0 Z" fill="#36AD6A"/>
<path d="M1560.0 119.5 H1722.0" stroke="#525252" stroke-width="12.0"/>
<text x="1758.2 1819.3 1883.1" y="144.3" class="leg">CQD</text>
<path d="M1560.0 208.0 H1722.0" stroke="#FF8000" stroke-width="12.0"/>
<text x="1757.2 1813.4 1861.4 1913.6" y="232.8" class="leg">PhAM</text>
<path d="M1560.0 296.5 H1722.0" stroke="#F03C41" stroke-width="12.0"/>
<text x="1755.9 1825.6 1845.1" y="321.3" class="leg">Mix</text>
<path d="M1560.0 385.0 H1722.0" stroke="#1A70DE" stroke-width="12.0"/>
<text x="1757.0 1820.3 1856.6 1902.9 1930.4 1949.1 1999.6" y="409.8" class="leg">Hybrid1</text>
<rect x="2004.72" y="402.36" width="15.73" height="9.44" fill="#fff"/>
<rect x="2028.13" y="402.36" width="15.23" height="9.44" fill="#fff"/>
<path d="M1560.0 473.5 H1722.0" stroke="#36AD6A" stroke-width="12.0"/>
<text x="1757.6 1820.3 1857.2 1903.3 1931.2 1949.4 1995.1" y="498.3" class="leg">Hybrid4</text>
<text transform="translate(193.0 1408.2) scale(1 1.040)" class="tl" text-anchor="end">0</text>
<text transform="translate(196.5 1112.0) scale(1 1.040)" class="tl" text-anchor="end">1</text>
<rect x="158.80" y="1104.85" width="14.39" height="9.10" fill="#fff"/>
<rect x="180.21" y="1104.85" width="13.95" height="9.10" fill="#fff"/>
<text transform="translate(193.0 815.7) scale(1 1.040)" class="tl" text-anchor="end">2</text>
<text transform="translate(193.0 519.5) scale(1 1.040)" class="tl" text-anchor="end">3</text>
<text transform="translate(193.0 223.2) scale(1 1.040)" class="tl" text-anchor="end">4</text>
<text transform="translate(244.5 1512.5) scale(1 1.040)" class="tl" text-anchor="middle">200</text>
<text transform="translate(553.1 1512.5) scale(1 1.040)" class="tl" text-anchor="middle">250</text>
<text transform="translate(861.7 1512.5) scale(1 1.040)" class="tl" text-anchor="middle">300</text>
<text transform="translate(1170.2 1512.5) scale(1 1.040)" class="tl" text-anchor="middle">350</text>
<text transform="translate(1478.8 1512.5) scale(1 1.040)" class="tl" text-anchor="middle">400</text>
<text transform="translate(1787.4 1512.5) scale(1 1.040)" class="tl" text-anchor="middle">450</text>
<text transform="translate(2096.0 1512.5) scale(1 1.040)" class="tl" text-anchor="middle">500</text>
<text x="888.7 971.5 1019.7 1059.0 1104.8 1124.4 1172.6 1217.8 1264.9 1286.9 1333.9 1358.3 1385.3 1431.7 1507.6" y="1614.0" class="at">Wavelength (nm)</text>
<text transform="rotate(-90)" x="-947.0 -889.5 -842.0 -799.4 -752.7 -725.9 -678.8 -631.9 -586.6 -543.3" y="105.0" class="at">Absorbance</text>
</svg>
</body></html>
